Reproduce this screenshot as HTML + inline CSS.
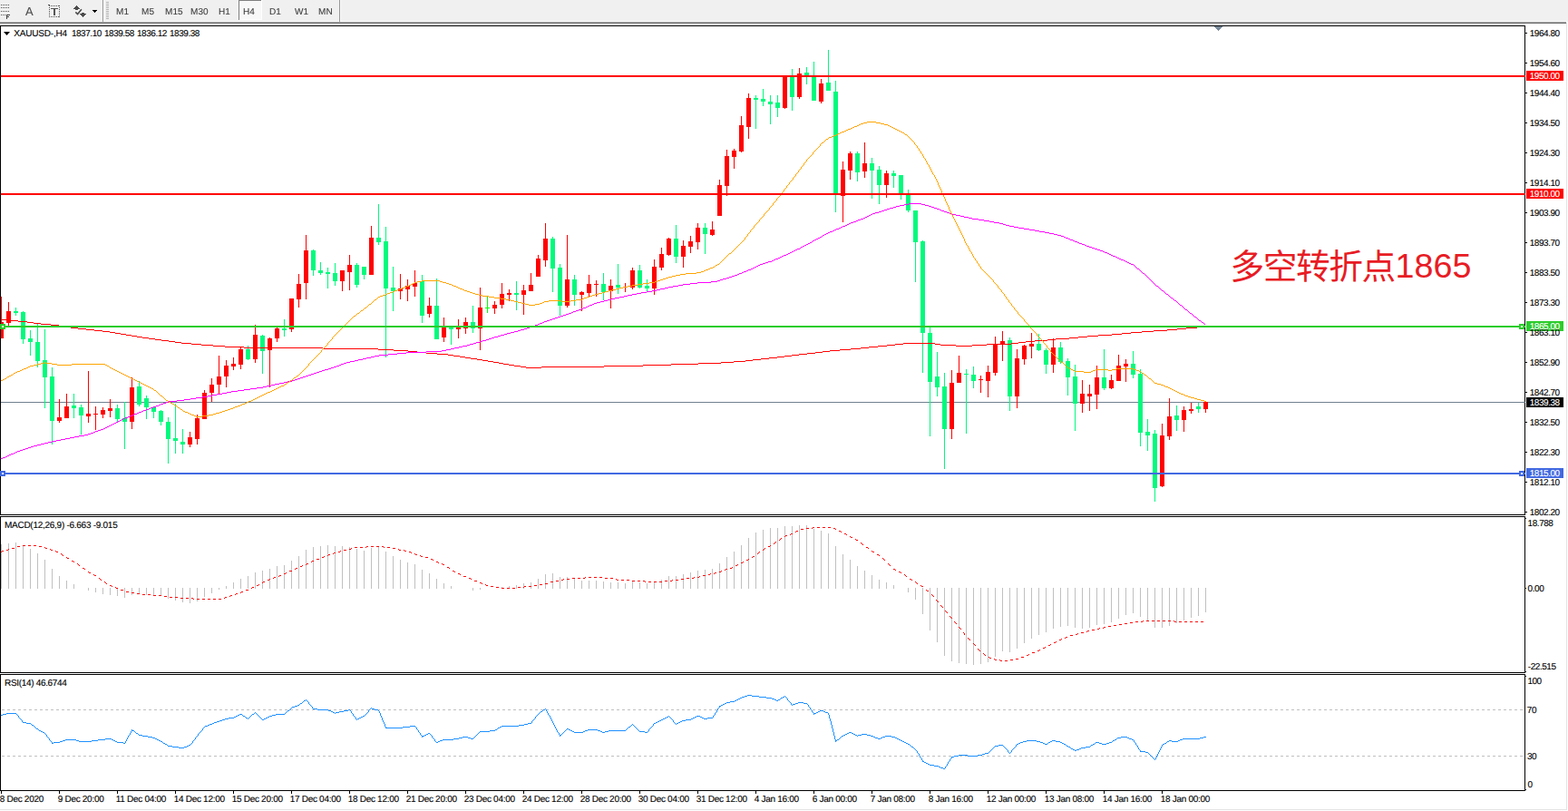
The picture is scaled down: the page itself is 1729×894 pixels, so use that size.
<!DOCTYPE html>
<html><head><meta charset="utf-8"><title>XAUUSD H4</title>
<style>
html,body{margin:0;padding:0;background:#fff}
body{width:1729px;height:894px;position:relative;overflow:hidden;font-family:"Liberation Sans",sans-serif}
#tb{position:absolute;left:0;top:0;width:1729px;height:24px;background:#f0f0f0}
#tbh{position:absolute;left:0;top:23px;width:1728px;height:1px;background:#f8f8f8}
#tbl1{position:absolute;left:0;top:24px;width:1727px;height:1px;background:#a8a8a8}
#tbl2{position:absolute;left:0;top:25px;width:1727px;height:1px;background:#696969}
#rs{position:absolute;left:1727px;top:25px;width:1px;height:868px;background:#e3e3e3}
#bs{position:absolute;left:0;top:892px;width:1728px;height:1px;background:#e3e3e3}
svg{position:absolute;left:0;top:0}
.t{position:absolute;white-space:nowrap;font-size:10px;line-height:12px;color:#000;letter-spacing:-0.45px;text-rendering:geometricPrecision;-webkit-text-stroke:0.12px}
.w{color:#fff}
.tf{position:absolute;white-space:nowrap;font-size:10px;line-height:12px;color:#3c3c3c;letter-spacing:0.1px;top:8px;text-rendering:geometricPrecision;will-change:transform;-webkit-text-stroke:0.1px #3c3c3c}
.tl{letter-spacing:-0.29px}
</style></head><body>
<div id="tb"></div><div id="tbh"></div><div id="tbl1"></div><div id="tbl2"></div><div id="rs"></div><div id="bs"></div>

<svg width="1729" height="894" viewBox="0 0 1729 894" shape-rendering="crispEdges">
<rect x="1" y="443" width="1680" height="1" fill="#708090"/>
<rect x="1" y="327" width="1" height="46" fill="#ff0000"/>
<rect x="1" y="355" width="3" height="18" fill="#ff0000"/>
<rect x="9" y="333" width="1" height="26" fill="#ff0000"/>
<rect x="7" y="343" width="5" height="13" fill="#ff0000"/>
<rect x="17" y="339" width="1" height="9" fill="#00fa7d"/>
<rect x="15" y="343" width="5" height="2" fill="#00fa7d"/>
<rect x="25" y="343" width="1" height="36" fill="#00fa7d"/>
<rect x="23" y="344" width="5" height="30" fill="#00fa7d"/>
<rect x="33" y="364" width="1" height="28" fill="#00fa7d"/>
<rect x="31" y="373" width="5" height="4" fill="#00fa7d"/>
<rect x="41" y="357" width="1" height="48" fill="#00fa7d"/>
<rect x="39" y="377" width="5" height="21" fill="#00fa7d"/>
<rect x="49" y="363" width="1" height="87" fill="#00fa7d"/>
<rect x="47" y="397" width="5" height="19" fill="#00fa7d"/>
<rect x="57" y="405" width="1" height="85" fill="#00fa7d"/>
<rect x="55" y="415" width="5" height="49" fill="#00fa7d"/>
<rect x="65" y="440" width="1" height="26" fill="#ff0000"/>
<rect x="63" y="460" width="5" height="4" fill="#ff0000"/>
<rect x="73" y="434" width="1" height="27" fill="#ff0000"/>
<rect x="71" y="448" width="5" height="13" fill="#ff0000"/>
<rect x="81" y="434" width="1" height="27" fill="#00fa7d"/>
<rect x="79" y="447" width="5" height="3" fill="#00fa7d"/>
<rect x="89" y="446" width="1" height="33" fill="#00fa7d"/>
<rect x="87" y="449" width="5" height="9" fill="#00fa7d"/>
<rect x="97" y="409" width="1" height="57" fill="#ff0000"/>
<rect x="95" y="456" width="5" height="3" fill="#ff0000"/>
<rect x="105" y="448" width="1" height="26" fill="#ff0000"/>
<rect x="103" y="456" width="5" height="1" fill="#ff0000"/>
<rect x="113" y="449" width="1" height="12" fill="#ff0000"/>
<rect x="111" y="452" width="5" height="5" fill="#ff0000"/>
<rect x="121" y="440" width="1" height="20" fill="#ff0000"/>
<rect x="119" y="450" width="5" height="3" fill="#ff0000"/>
<rect x="129" y="446" width="1" height="20" fill="#00fa7d"/>
<rect x="127" y="450" width="5" height="12" fill="#00fa7d"/>
<rect x="137" y="443" width="1" height="52" fill="#00fa7d"/>
<rect x="135" y="461" width="5" height="4" fill="#00fa7d"/>
<rect x="145" y="416" width="1" height="57" fill="#ff0000"/>
<rect x="143" y="427" width="5" height="38" fill="#ff0000"/>
<rect x="153" y="420" width="1" height="28" fill="#00fa7d"/>
<rect x="151" y="426" width="5" height="20" fill="#00fa7d"/>
<rect x="161" y="436" width="1" height="26" fill="#00fa7d"/>
<rect x="159" y="439" width="5" height="10" fill="#00fa7d"/>
<rect x="169" y="449" width="1" height="12" fill="#00fa7d"/>
<rect x="167" y="449" width="5" height="5" fill="#00fa7d"/>
<rect x="177" y="452" width="1" height="17" fill="#00fa7d"/>
<rect x="175" y="453" width="5" height="12" fill="#00fa7d"/>
<rect x="185" y="460" width="1" height="51" fill="#00fa7d"/>
<rect x="183" y="465" width="5" height="19" fill="#00fa7d"/>
<rect x="193" y="445" width="1" height="55" fill="#00fa7d"/>
<rect x="191" y="483" width="5" height="3" fill="#00fa7d"/>
<rect x="201" y="473" width="1" height="27" fill="#00fa7d"/>
<rect x="199" y="487" width="5" height="3" fill="#00fa7d"/>
<rect x="209" y="476" width="1" height="17" fill="#ff0000"/>
<rect x="207" y="482" width="5" height="8" fill="#ff0000"/>
<rect x="217" y="457" width="1" height="33" fill="#ff0000"/>
<rect x="215" y="461" width="5" height="23" fill="#ff0000"/>
<rect x="225" y="430" width="1" height="32" fill="#ff0000"/>
<rect x="223" y="433" width="5" height="29" fill="#ff0000"/>
<rect x="233" y="417" width="1" height="26" fill="#ff0000"/>
<rect x="231" y="424" width="5" height="9" fill="#ff0000"/>
<rect x="241" y="392" width="1" height="42" fill="#ff0000"/>
<rect x="239" y="415" width="5" height="9" fill="#ff0000"/>
<rect x="249" y="397" width="1" height="30" fill="#ff0000"/>
<rect x="247" y="403" width="5" height="12" fill="#ff0000"/>
<rect x="257" y="394" width="1" height="14" fill="#ff0000"/>
<rect x="255" y="401" width="5" height="3" fill="#ff0000"/>
<rect x="265" y="382" width="1" height="25" fill="#ff0000"/>
<rect x="263" y="385" width="5" height="17" fill="#ff0000"/>
<rect x="273" y="381" width="1" height="16" fill="#00fa7d"/>
<rect x="271" y="385" width="5" height="11" fill="#00fa7d"/>
<rect x="281" y="358" width="1" height="42" fill="#ff0000"/>
<rect x="279" y="369" width="5" height="27" fill="#ff0000"/>
<rect x="289" y="369" width="1" height="43" fill="#00fa7d"/>
<rect x="287" y="370" width="5" height="17" fill="#00fa7d"/>
<rect x="297" y="372" width="1" height="55" fill="#ff0000"/>
<rect x="295" y="373" width="5" height="13" fill="#ff0000"/>
<rect x="305" y="361" width="1" height="16" fill="#ff0000"/>
<rect x="303" y="362" width="5" height="11" fill="#ff0000"/>
<rect x="313" y="352" width="1" height="19" fill="#00fa7d"/>
<rect x="311" y="362" width="5" height="2" fill="#00fa7d"/>
<rect x="321" y="329" width="1" height="37" fill="#ff0000"/>
<rect x="319" y="329" width="5" height="34" fill="#ff0000"/>
<rect x="329" y="302" width="1" height="37" fill="#ff0000"/>
<rect x="327" y="313" width="5" height="17" fill="#ff0000"/>
<rect x="337" y="259" width="1" height="71" fill="#ff0000"/>
<rect x="335" y="276" width="5" height="36" fill="#ff0000"/>
<rect x="345" y="275" width="1" height="29" fill="#00fa7d"/>
<rect x="343" y="276" width="5" height="22" fill="#00fa7d"/>
<rect x="353" y="289" width="1" height="14" fill="#00fa7d"/>
<rect x="351" y="298" width="5" height="3" fill="#00fa7d"/>
<rect x="361" y="295" width="1" height="23" fill="#00fa7d"/>
<rect x="359" y="300" width="5" height="2" fill="#00fa7d"/>
<rect x="369" y="290" width="1" height="25" fill="#00fa7d"/>
<rect x="367" y="301" width="5" height="9" fill="#00fa7d"/>
<rect x="377" y="298" width="1" height="23" fill="#ff0000"/>
<rect x="375" y="298" width="5" height="12" fill="#ff0000"/>
<rect x="385" y="281" width="1" height="39" fill="#ff0000"/>
<rect x="383" y="292" width="5" height="8" fill="#ff0000"/>
<rect x="393" y="290" width="1" height="27" fill="#00fa7d"/>
<rect x="391" y="292" width="5" height="22" fill="#00fa7d"/>
<rect x="401" y="294" width="1" height="14" fill="#00fa7d"/>
<rect x="399" y="294" width="5" height="9" fill="#00fa7d"/>
<rect x="409" y="249" width="1" height="54" fill="#ff0000"/>
<rect x="407" y="262" width="5" height="41" fill="#ff0000"/>
<rect x="417" y="225" width="1" height="45" fill="#00fa7d"/>
<rect x="415" y="262" width="5" height="5" fill="#00fa7d"/>
<rect x="425" y="250" width="1" height="144" fill="#00fa7d"/>
<rect x="423" y="266" width="5" height="52" fill="#00fa7d"/>
<rect x="433" y="294" width="1" height="49" fill="#00fa7d"/>
<rect x="431" y="317" width="5" height="4" fill="#00fa7d"/>
<rect x="441" y="302" width="1" height="28" fill="#ff0000"/>
<rect x="439" y="318" width="5" height="3" fill="#ff0000"/>
<rect x="449" y="308" width="1" height="24" fill="#ff0000"/>
<rect x="447" y="315" width="5" height="4" fill="#ff0000"/>
<rect x="457" y="298" width="1" height="29" fill="#ff0000"/>
<rect x="455" y="312" width="5" height="4" fill="#ff0000"/>
<rect x="465" y="303" width="1" height="53" fill="#00fa7d"/>
<rect x="463" y="310" width="5" height="38" fill="#00fa7d"/>
<rect x="473" y="328" width="1" height="22" fill="#ff0000"/>
<rect x="471" y="337" width="5" height="9" fill="#ff0000"/>
<rect x="481" y="307" width="1" height="67" fill="#00fa7d"/>
<rect x="479" y="337" width="5" height="37" fill="#00fa7d"/>
<rect x="489" y="350" width="1" height="27" fill="#ff0000"/>
<rect x="487" y="360" width="5" height="12" fill="#ff0000"/>
<rect x="497" y="360" width="1" height="20" fill="#00fa7d"/>
<rect x="495" y="360" width="5" height="3" fill="#00fa7d"/>
<rect x="505" y="352" width="1" height="21" fill="#ff0000"/>
<rect x="503" y="361" width="5" height="2" fill="#ff0000"/>
<rect x="513" y="350" width="1" height="18" fill="#ff0000"/>
<rect x="511" y="355" width="5" height="7" fill="#ff0000"/>
<rect x="521" y="337" width="1" height="30" fill="#00fa7d"/>
<rect x="519" y="355" width="5" height="7" fill="#00fa7d"/>
<rect x="529" y="317" width="1" height="69" fill="#ff0000"/>
<rect x="527" y="339" width="5" height="23" fill="#ff0000"/>
<rect x="537" y="327" width="1" height="18" fill="#00ff00"/>
<rect x="535" y="339" width="5" height="1" fill="#00ff00"/>
<rect x="545" y="332" width="1" height="14" fill="#ff0000"/>
<rect x="543" y="336" width="5" height="4" fill="#ff0000"/>
<rect x="553" y="312" width="1" height="28" fill="#ff0000"/>
<rect x="551" y="324" width="5" height="12" fill="#ff0000"/>
<rect x="561" y="319" width="1" height="13" fill="#ff0000"/>
<rect x="559" y="323" width="5" height="2" fill="#ff0000"/>
<rect x="569" y="310" width="1" height="32" fill="#00fa7d"/>
<rect x="567" y="323" width="5" height="2" fill="#00fa7d"/>
<rect x="577" y="314" width="1" height="33" fill="#ff0000"/>
<rect x="575" y="320" width="5" height="5" fill="#ff0000"/>
<rect x="585" y="301" width="1" height="20" fill="#ff0000"/>
<rect x="583" y="314" width="5" height="7" fill="#ff0000"/>
<rect x="593" y="281" width="1" height="24" fill="#ff0000"/>
<rect x="591" y="285" width="5" height="20" fill="#ff0000"/>
<rect x="601" y="246" width="1" height="48" fill="#ff0000"/>
<rect x="599" y="263" width="5" height="24" fill="#ff0000"/>
<rect x="609" y="261" width="1" height="61" fill="#00fa7d"/>
<rect x="607" y="263" width="5" height="33" fill="#00fa7d"/>
<rect x="617" y="291" width="1" height="57" fill="#00fa7d"/>
<rect x="615" y="295" width="5" height="42" fill="#00fa7d"/>
<rect x="625" y="259" width="1" height="80" fill="#ff0000"/>
<rect x="623" y="308" width="5" height="29" fill="#ff0000"/>
<rect x="633" y="303" width="1" height="34" fill="#00fa7d"/>
<rect x="631" y="308" width="5" height="17" fill="#00fa7d"/>
<rect x="641" y="321" width="1" height="22" fill="#ff0000"/>
<rect x="639" y="322" width="5" height="3" fill="#ff0000"/>
<rect x="649" y="303" width="1" height="24" fill="#ff0000"/>
<rect x="647" y="313" width="5" height="10" fill="#ff0000"/>
<rect x="657" y="309" width="1" height="18" fill="#ff0000"/>
<rect x="655" y="313" width="5" height="1" fill="#ff0000"/>
<rect x="665" y="301" width="1" height="30" fill="#00fa7d"/>
<rect x="663" y="313" width="5" height="9" fill="#00fa7d"/>
<rect x="673" y="308" width="1" height="32" fill="#ff0000"/>
<rect x="671" y="315" width="5" height="6" fill="#ff0000"/>
<rect x="681" y="291" width="1" height="33" fill="#00fa7d"/>
<rect x="679" y="314" width="5" height="3" fill="#00fa7d"/>
<rect x="689" y="312" width="1" height="10" fill="#ff0000"/>
<rect x="687" y="316" width="5" height="1" fill="#ff0000"/>
<rect x="697" y="295" width="1" height="24" fill="#ff0000"/>
<rect x="695" y="298" width="5" height="19" fill="#ff0000"/>
<rect x="705" y="292" width="1" height="26" fill="#00fa7d"/>
<rect x="703" y="298" width="5" height="19" fill="#00fa7d"/>
<rect x="713" y="308" width="1" height="13" fill="#00fa7d"/>
<rect x="711" y="315" width="5" height="3" fill="#00fa7d"/>
<rect x="721" y="286" width="1" height="39" fill="#ff0000"/>
<rect x="719" y="294" width="5" height="24" fill="#ff0000"/>
<rect x="729" y="273" width="1" height="25" fill="#ff0000"/>
<rect x="727" y="280" width="5" height="15" fill="#ff0000"/>
<rect x="737" y="262" width="1" height="20" fill="#ff0000"/>
<rect x="735" y="263" width="5" height="18" fill="#ff0000"/>
<rect x="745" y="248" width="1" height="42" fill="#00fa7d"/>
<rect x="743" y="263" width="5" height="20" fill="#00fa7d"/>
<rect x="753" y="265" width="1" height="30" fill="#ff0000"/>
<rect x="751" y="271" width="5" height="12" fill="#ff0000"/>
<rect x="761" y="260" width="1" height="19" fill="#ff0000"/>
<rect x="759" y="266" width="5" height="6" fill="#ff0000"/>
<rect x="769" y="246" width="1" height="29" fill="#ff0000"/>
<rect x="767" y="251" width="5" height="16" fill="#ff0000"/>
<rect x="777" y="246" width="1" height="34" fill="#00fa7d"/>
<rect x="775" y="251" width="5" height="7" fill="#00fa7d"/>
<rect x="785" y="244" width="1" height="16" fill="#ff0000"/>
<rect x="783" y="253" width="5" height="6" fill="#ff0000"/>
<rect x="793" y="198" width="1" height="40" fill="#ff0000"/>
<rect x="791" y="204" width="5" height="34" fill="#ff0000"/>
<rect x="801" y="165" width="1" height="51" fill="#ff0000"/>
<rect x="799" y="172" width="5" height="33" fill="#ff0000"/>
<rect x="809" y="164" width="1" height="22" fill="#ff0000"/>
<rect x="807" y="166" width="5" height="7" fill="#ff0000"/>
<rect x="817" y="128" width="1" height="40" fill="#ff0000"/>
<rect x="815" y="138" width="5" height="29" fill="#ff0000"/>
<rect x="825" y="103" width="1" height="50" fill="#ff0000"/>
<rect x="823" y="108" width="5" height="32" fill="#ff0000"/>
<rect x="833" y="105" width="1" height="37" fill="#00fa7d"/>
<rect x="831" y="108" width="5" height="2" fill="#00fa7d"/>
<rect x="841" y="98" width="1" height="19" fill="#00fa7d"/>
<rect x="839" y="109" width="5" height="3" fill="#00fa7d"/>
<rect x="849" y="105" width="1" height="32" fill="#00fa7d"/>
<rect x="847" y="112" width="5" height="3" fill="#00fa7d"/>
<rect x="857" y="105" width="1" height="24" fill="#00fa7d"/>
<rect x="855" y="113" width="5" height="6" fill="#00fa7d"/>
<rect x="865" y="84" width="1" height="36" fill="#ff0000"/>
<rect x="863" y="84" width="5" height="35" fill="#ff0000"/>
<rect x="873" y="76" width="1" height="46" fill="#00fa7d"/>
<rect x="871" y="84" width="5" height="23" fill="#00fa7d"/>
<rect x="881" y="75" width="1" height="34" fill="#ff0000"/>
<rect x="879" y="81" width="5" height="26" fill="#ff0000"/>
<rect x="889" y="74" width="1" height="19" fill="#00fa7d"/>
<rect x="887" y="80" width="5" height="3" fill="#00fa7d"/>
<rect x="897" y="68" width="1" height="43" fill="#00fa7d"/>
<rect x="895" y="83" width="5" height="28" fill="#00fa7d"/>
<rect x="905" y="87" width="1" height="27" fill="#ff0000"/>
<rect x="903" y="92" width="5" height="20" fill="#ff0000"/>
<rect x="913" y="55" width="1" height="45" fill="#00fa7d"/>
<rect x="911" y="91" width="5" height="9" fill="#00fa7d"/>
<rect x="921" y="89" width="1" height="145" fill="#00fa7d"/>
<rect x="919" y="101" width="5" height="114" fill="#00fa7d"/>
<rect x="929" y="178" width="1" height="67" fill="#ff0000"/>
<rect x="927" y="187" width="5" height="29" fill="#ff0000"/>
<rect x="937" y="167" width="1" height="31" fill="#ff0000"/>
<rect x="935" y="169" width="5" height="19" fill="#ff0000"/>
<rect x="945" y="167" width="1" height="33" fill="#00fa7d"/>
<rect x="943" y="169" width="5" height="21" fill="#00fa7d"/>
<rect x="953" y="157" width="1" height="39" fill="#ff0000"/>
<rect x="951" y="180" width="5" height="9" fill="#ff0000"/>
<rect x="961" y="174" width="1" height="45" fill="#00fa7d"/>
<rect x="959" y="180" width="5" height="8" fill="#00fa7d"/>
<rect x="969" y="183" width="1" height="42" fill="#00fa7d"/>
<rect x="967" y="187" width="5" height="17" fill="#00fa7d"/>
<rect x="977" y="188" width="1" height="30" fill="#ff0000"/>
<rect x="975" y="191" width="5" height="13" fill="#ff0000"/>
<rect x="985" y="188" width="1" height="19" fill="#00fa7d"/>
<rect x="983" y="191" width="5" height="3" fill="#00fa7d"/>
<rect x="993" y="193" width="1" height="27" fill="#00fa7d"/>
<rect x="991" y="193" width="5" height="21" fill="#00fa7d"/>
<rect x="1001" y="209" width="1" height="25" fill="#00fa7d"/>
<rect x="999" y="214" width="5" height="18" fill="#00fa7d"/>
<rect x="1009" y="232" width="1" height="79" fill="#00fa7d"/>
<rect x="1007" y="232" width="5" height="35" fill="#00fa7d"/>
<rect x="1017" y="265" width="1" height="146" fill="#00fa7d"/>
<rect x="1015" y="266" width="5" height="101" fill="#00fa7d"/>
<rect x="1025" y="361" width="1" height="120" fill="#00fa7d"/>
<rect x="1023" y="367" width="5" height="54" fill="#00fa7d"/>
<rect x="1033" y="388" width="1" height="49" fill="#00fa7d"/>
<rect x="1031" y="415" width="5" height="12" fill="#00fa7d"/>
<rect x="1041" y="411" width="1" height="106" fill="#00fa7d"/>
<rect x="1039" y="426" width="5" height="47" fill="#00fa7d"/>
<rect x="1049" y="408" width="1" height="76" fill="#ff0000"/>
<rect x="1047" y="422" width="5" height="51" fill="#ff0000"/>
<rect x="1057" y="392" width="1" height="30" fill="#ff0000"/>
<rect x="1055" y="411" width="5" height="11" fill="#ff0000"/>
<rect x="1065" y="407" width="1" height="71" fill="#00fa7d"/>
<rect x="1063" y="412" width="5" height="1" fill="#00fa7d"/>
<rect x="1073" y="404" width="1" height="24" fill="#00fa7d"/>
<rect x="1071" y="413" width="5" height="7" fill="#00fa7d"/>
<rect x="1081" y="414" width="1" height="19" fill="#ff0000"/>
<rect x="1079" y="418" width="5" height="1" fill="#ff0000"/>
<rect x="1089" y="403" width="1" height="35" fill="#ff0000"/>
<rect x="1087" y="410" width="5" height="10" fill="#ff0000"/>
<rect x="1097" y="371" width="1" height="43" fill="#ff0000"/>
<rect x="1095" y="379" width="5" height="32" fill="#ff0000"/>
<rect x="1105" y="365" width="1" height="33" fill="#ff0000"/>
<rect x="1103" y="376" width="5" height="4" fill="#ff0000"/>
<rect x="1113" y="372" width="1" height="81" fill="#00fa7d"/>
<rect x="1111" y="375" width="5" height="62" fill="#00fa7d"/>
<rect x="1121" y="385" width="1" height="65" fill="#ff0000"/>
<rect x="1119" y="395" width="5" height="42" fill="#ff0000"/>
<rect x="1129" y="380" width="1" height="22" fill="#ff0000"/>
<rect x="1127" y="381" width="5" height="15" fill="#ff0000"/>
<rect x="1137" y="367" width="1" height="28" fill="#ff0000"/>
<rect x="1135" y="379" width="5" height="3" fill="#ff0000"/>
<rect x="1145" y="368" width="1" height="19" fill="#00fa7d"/>
<rect x="1143" y="379" width="5" height="7" fill="#00fa7d"/>
<rect x="1153" y="384" width="1" height="28" fill="#00fa7d"/>
<rect x="1151" y="386" width="5" height="16" fill="#00fa7d"/>
<rect x="1161" y="373" width="1" height="38" fill="#ff0000"/>
<rect x="1159" y="383" width="5" height="19" fill="#ff0000"/>
<rect x="1169" y="377" width="1" height="24" fill="#00fa7d"/>
<rect x="1167" y="383" width="5" height="16" fill="#00fa7d"/>
<rect x="1177" y="395" width="1" height="41" fill="#00fa7d"/>
<rect x="1175" y="398" width="5" height="18" fill="#00fa7d"/>
<rect x="1185" y="402" width="1" height="73" fill="#00fa7d"/>
<rect x="1183" y="415" width="5" height="30" fill="#00fa7d"/>
<rect x="1193" y="419" width="1" height="36" fill="#ff0000"/>
<rect x="1191" y="434" width="5" height="11" fill="#ff0000"/>
<rect x="1201" y="424" width="1" height="29" fill="#ff0000"/>
<rect x="1199" y="434" width="5" height="3" fill="#ff0000"/>
<rect x="1209" y="403" width="1" height="48" fill="#ff0000"/>
<rect x="1207" y="416" width="5" height="19" fill="#ff0000"/>
<rect x="1217" y="385" width="1" height="45" fill="#00fa7d"/>
<rect x="1215" y="416" width="5" height="12" fill="#00fa7d"/>
<rect x="1225" y="413" width="1" height="16" fill="#ff0000"/>
<rect x="1223" y="419" width="5" height="9" fill="#ff0000"/>
<rect x="1233" y="391" width="1" height="29" fill="#ff0000"/>
<rect x="1231" y="403" width="5" height="17" fill="#ff0000"/>
<rect x="1241" y="396" width="1" height="25" fill="#ff0000"/>
<rect x="1239" y="401" width="5" height="3" fill="#ff0000"/>
<rect x="1249" y="387" width="1" height="30" fill="#00fa7d"/>
<rect x="1247" y="401" width="5" height="12" fill="#00fa7d"/>
<rect x="1257" y="407" width="1" height="85" fill="#00fa7d"/>
<rect x="1255" y="412" width="5" height="65" fill="#00fa7d"/>
<rect x="1265" y="462" width="1" height="35" fill="#00fa7d"/>
<rect x="1263" y="476" width="5" height="4" fill="#00fa7d"/>
<rect x="1273" y="474" width="1" height="79" fill="#00fa7d"/>
<rect x="1271" y="478" width="5" height="60" fill="#00fa7d"/>
<rect x="1281" y="467" width="1" height="70" fill="#ff0000"/>
<rect x="1279" y="480" width="5" height="56" fill="#ff0000"/>
<rect x="1289" y="439" width="1" height="46" fill="#ff0000"/>
<rect x="1287" y="459" width="5" height="22" fill="#ff0000"/>
<rect x="1297" y="447" width="1" height="28" fill="#00fa7d"/>
<rect x="1295" y="458" width="5" height="5" fill="#00fa7d"/>
<rect x="1305" y="448" width="1" height="28" fill="#ff0000"/>
<rect x="1303" y="452" width="5" height="11" fill="#ff0000"/>
<rect x="1313" y="444" width="1" height="12" fill="#ff0000"/>
<rect x="1311" y="451" width="5" height="2" fill="#ff0000"/>
<rect x="1321" y="444" width="1" height="11" fill="#00fa7d"/>
<rect x="1319" y="448" width="5" height="3" fill="#00fa7d"/>
<rect x="1329" y="442" width="1" height="13" fill="#ff0000"/>
<rect x="1327" y="443" width="5" height="8" fill="#ff0000"/>
<path d="M1 352.5h6M7 353.5h13M20 354.5h10M30 355.5h7M37 356.5h8M45 357.5h11M56 358.5h9M65 359.5h6M71 360.5h7M1320 360.5h10M78 361.5h8M1308 361.5h12M86 362.5h9M1298 362.5h10M95 363.5h9M1287 363.5h11M104 364.5h9M1272 364.5h15M113 365.5h8M1259 365.5h13M121 366.5h6M1247 366.5h12M127 367.5h6M1237 367.5h10M133 368.5h6M1226 368.5h11M139 369.5h6M1211 369.5h15M145 370.5h6M1199 370.5h12M151 371.5h6M1189 371.5h10M157 372.5h7M1179 372.5h10M164 373.5h7M1164 373.5h15M171 374.5h7M1155 374.5h9M178 375.5h8M1141 375.5h14M186 376.5h7M1131 376.5h10M193 377.5h7M1123 377.5h8M200 378.5h11M996 378.5h35M1115 378.5h8M211 379.5h11M987 379.5h9M1031 379.5h6M1088 379.5h27M222 380.5h13M978 380.5h9M1037 380.5h17M1072 380.5h16M235 381.5h13M968 381.5h10M1054 381.5h18M248 382.5h21M958 382.5h10M269 383.5h87M949 383.5h9M356 384.5h61M938 384.5h11M417 385.5h17M926 385.5h12M434 386.5h16M915 386.5h11M450 387.5h10M907 387.5h8M460 388.5h10M899 388.5h8M470 389.5h12M890 389.5h9M482 390.5h12M881 390.5h9M494 391.5h6M873 391.5h8M500 392.5h7M865 392.5h8M507 393.5h6M857 393.5h8M513 394.5h6M848 394.5h9M519 395.5h7M839 395.5h9M526 396.5h6M830 396.5h9M532 397.5h6M822 397.5h8M538 398.5h6M809 398.5h13M544 399.5h6M795 399.5h14M550 400.5h5M770 400.5h25M555 401.5h6M740 401.5h30M561 402.5h6M709 402.5h31M567 403.5h7M666 403.5h43M574 404.5h6M597 404.5h69M580 405.5h17" fill="none" stroke="#ff0000" stroke-width="1"/>
<path d="M1002 224.5h14M997 225.5h5M1016 225.5h4M992 226.5h5M1020 226.5h4M988 227.5h4M1024 227.5h3M985 228.5h3M1027 228.5h3M981 229.5h4M1030 229.5h3M978 230.5h3M1033 230.5h3M975 231.5h3M1036 231.5h2M972 232.5h3M1038 232.5h3M969 233.5h3M1041 233.5h3M965 234.5h4M1044 234.5h3M962 235.5h3M1047 235.5h3M960 236.5h2M1050 236.5h4M958 237.5h2M1054 237.5h5M956 238.5h2M1059 238.5h4M954 239.5h2M1063 239.5h5M952 240.5h2M1068 240.5h4M949 241.5h3M1072 241.5h7M946 242.5h3M1079 242.5h6M944 243.5h2M1085 243.5h6M941 244.5h3M1091 244.5h5M938 245.5h3M1096 245.5h6M936 246.5h2M1102 246.5h4M934 247.5h2M1106 247.5h3M932 248.5h2M1109 248.5h4M929 249.5h3M1113 249.5h5M927 250.5h2M1118 250.5h5M925 251.5h2M1123 251.5h6M922 252.5h3M1129 252.5h6M920 253.5h2M1135 253.5h6M918 254.5h2M1141 254.5h5M915 255.5h3M1146 255.5h6M913 256.5h2M1152 256.5h5M911 257.5h2M1157 257.5h5M909 258.5h2M1162 258.5h4M907 259.5h2M1166 259.5h4M906 260.5h1M1170 260.5h3M904 261.5h2M1173 261.5h2M902 262.5h2M1175 262.5h3M900 263.5h2M1178 263.5h2M898 264.5h2M1180 264.5h3M896 265.5h2M1183 265.5h2M895 266.5h1M1185 266.5h3M893 267.5h2M1188 267.5h2M891 268.5h2M1190 268.5h3M889 269.5h2M1193 269.5h3M887 270.5h2M1196 270.5h2M885 271.5h2M1198 271.5h3M883 272.5h2M1201 272.5h3M882 273.5h1M1204 273.5h3M879 274.5h3M1207 274.5h3M877 275.5h2M1210 275.5h3M875 276.5h2M1213 276.5h3M873 277.5h2M1216 277.5h2M871 278.5h2M1218 278.5h3M869 279.5h2M1221 279.5h2M867 280.5h2M1223 280.5h2M864 281.5h3M1225 281.5h2M862 282.5h2M1227 282.5h3M860 283.5h2M1230 283.5h2M858 284.5h2M1232 284.5h2M855 285.5h3M1234 285.5h2M853 286.5h2M1236 286.5h3M851 287.5h2M1239 287.5h2M847 288.5h4M1241 288.5h2M844 289.5h3M1243 289.5h2M841 290.5h3M1245 290.5h2M838 291.5h3M1247 291.5h3M836 292.5h2M1250 292.5h1M834 293.5h2M1251 293.5h1M832 294.5h2M1252 294.5h1M830 295.5h2M1253 295.5h1M828 296.5h2M1254 296.5h2M825 297.5h3M1256 297.5h1M823 298.5h2M1257 298.5h1M820 299.5h3M1258 299.5h1M818 300.5h2M1259 300.5h1M815 301.5h3M1260 301.5h2M813 302.5h2M1262 302.5h1M810 303.5h3M1263 303.5h1M807 304.5h3M1264 304.5h1M804 305.5h3M1265 305.5h1M801 306.5h3M1266 306.5h1M797 307.5h4M1267 307.5h1M794 308.5h3M1268 308.5h1M791 309.5h3M1269 309.5h1M784 310.5h7M1270 310.5h1M769 311.5h15M1271 311.5h1M761 312.5h8M1272 312.5h1M753 313.5h8M1273 313.5h1M748 314.5h5M1274 314.5h1M742 315.5h6M1275 315.5h2M737 316.5h5M1277 316.5h1M733 317.5h4M1278 317.5h1M728 318.5h5M1279 318.5h1M724 319.5h4M1280 319.5h1M719 320.5h5M1281 320.5h2M713 321.5h6M1283 321.5h1M707 322.5h6M1284 322.5h1M702 323.5h5M1285 323.5h1M697 324.5h5M1286 324.5h2M692 325.5h5M1288 325.5h1M688 326.5h4M1289 326.5h1M683 327.5h5M1290 327.5h1M678 328.5h5M1291 328.5h2M674 329.5h4M1293 329.5h1M670 330.5h4M1294 330.5h1M666 331.5h4M1295 331.5h2M662 332.5h4M1297 332.5h1M658 333.5h4M1298 333.5h1M655 334.5h3M1299 334.5h1M653 335.5h2M1300 335.5h1M650 336.5h3M1301 336.5h2M648 337.5h2M1303 337.5h1M646 338.5h2M1304 338.5h1M643 339.5h3M1305 339.5h1M641 340.5h2M1306 340.5h1M638 341.5h3M1307 341.5h2M635 342.5h3M1309 342.5h1M632 343.5h3M1310 343.5h1M630 344.5h2M1311 344.5h1M627 345.5h3M1312 345.5h2M624 346.5h3M1314 346.5h1M621 347.5h3M1315 347.5h1M618 348.5h3M1316 348.5h1M615 349.5h3M1317 349.5h2M612 350.5h3M1319 350.5h1M609 351.5h3M1320 351.5h1M606 352.5h3M1321 352.5h1M603 353.5h3M1322 353.5h2M600 354.5h3M1324 354.5h1M598 355.5h2M1325 355.5h2M595 356.5h3M1327 356.5h1M593 357.5h2M1328 357.5h1M590 358.5h3M587 359.5h3M584 360.5h3M581 361.5h3M578 362.5h3M574 363.5h4M571 364.5h3M567 365.5h4M563 366.5h4M559 367.5h4M556 368.5h3M552 369.5h4M549 370.5h3M545 371.5h4M542 372.5h3M539 373.5h3M536 374.5h3M532 375.5h4M529 376.5h3M525 377.5h4M522 378.5h3M518 379.5h4M515 380.5h3M510 381.5h5M506 382.5h4M501 383.5h5M497 384.5h4M492 385.5h5M487 386.5h5M470 387.5h17M448 388.5h22M438 389.5h10M428 390.5h10M418 391.5h10M413 392.5h5M409 393.5h4M404 394.5h5M400 395.5h4M395 396.5h5M391 397.5h4M386 398.5h5M382 399.5h4M379 400.5h3M376 401.5h3M374 402.5h2M371 403.5h3M368 404.5h3M365 405.5h3M362 406.5h3M358 407.5h4M355 408.5h3M352 409.5h3M349 410.5h3M346 411.5h3M343 412.5h3M340 413.5h3M337 414.5h3M334 415.5h3M331 416.5h3M328 417.5h3M325 418.5h3M322 419.5h3M317 420.5h5M313 421.5h4M308 422.5h5M303 423.5h5M299 424.5h4M294 425.5h5M290 426.5h4M283 427.5h7M276 428.5h7M269 429.5h7M262 430.5h7M255 431.5h7M250 432.5h5M245 433.5h5M239 434.5h6M234 435.5h5M229 436.5h5M223 437.5h6M216 438.5h7M210 439.5h6M203 440.5h7M195 441.5h8M186 442.5h9M183 443.5h3M180 444.5h3M177 445.5h3M175 446.5h2M172 447.5h3M169 448.5h3M166 449.5h3M164 450.5h2M161 451.5h3M158 452.5h3M156 453.5h2M153 454.5h3M151 455.5h2M148 456.5h3M146 457.5h2M143 458.5h3M141 459.5h2M138 460.5h3M136 461.5h2M134 462.5h2M132 463.5h2M130 464.5h2M128 465.5h2M126 466.5h2M124 467.5h2M122 468.5h2M120 469.5h2M118 470.5h2M116 471.5h2M114 472.5h2M111 473.5h3M108 474.5h3M105 475.5h3M103 476.5h2M100 477.5h3M97 478.5h3M93 479.5h4M87 480.5h6M82 481.5h5M77 482.5h5M72 483.5h5M67 484.5h5M62 485.5h5M57 486.5h5M53 487.5h4M49 488.5h4M45 489.5h4M41 490.5h4M37 491.5h4M34 492.5h3M31 493.5h3M28 494.5h3M25 495.5h3M22 496.5h3M19 497.5h3M17 498.5h2M15 499.5h2M12 500.5h3M10 501.5h2M8 502.5h2M6 503.5h2M3 504.5h3M1 505.5h2" fill="none" stroke="#ff00ff" stroke-width="1"/>
<path d="M956 134.5h10M952 135.5h4M966 135.5h5M949 136.5h3M971 136.5h4M947 137.5h2M975 137.5h4M945 138.5h2M979 138.5h2M942 139.5h3M981 139.5h2M940 140.5h2M983 140.5h2M938 141.5h2M985 141.5h2M935 142.5h3M987 142.5h2M933 143.5h2M989 143.5h2M931 144.5h2M991 144.5h2M928 145.5h3M993 145.5h2M926 146.5h2M995 146.5h2M924 147.5h2M997 147.5h1M922 148.5h2M998 148.5h2M919 149.5h3M1000 149.5h1M917 150.5h2M1001 150.5h1M914 151.5h3M1002 151.5h1M913 152.5h1M1003 152.5h1M911 153.5h2M1004 153.5h1M910 154.5h1M1005 154.5h1M909 155.5h1M1006 155.5h1M908 156.5h1M1007 156.5h1M906 157.5h2M1008.5 157v2M905 158.5h1M904.5 159v2M1009 159.5h1M1010 160.5h1M903 161.5h1M1011.5 161v2M902 162.5h1M901 163.5h1M1012 163.5h1M900 164.5h1M1013.5 164v2M899 165.5h1M898 166.5h1M1014 166.5h1M897 167.5h1M1015.5 167v2M896.5 168v2M1016 169.5h1M895 170.5h1M1017.5 170v2M894 171.5h1M893 172.5h1M1018.5 172v2M892 173.5h1M891 174.5h1M1019 174.5h1M890 175.5h1M1020.5 175v2M889.5 176v2M1021.5 177v2M888 178.5h1M887 179.5h1M1022.5 179v2M886.5 180v2M1023 181.5h1M885 182.5h1M1024.5 182v2M884 183.5h1M883.5 184v2M1025.5 184v2M882 186.5h1M1026.5 186v2M881 187.5h1M880.5 188v2M1027.5 188v2M879 190.5h1M1028.5 190v2M878 191.5h1M877.5 192v2M1029 192.5h1M1030.5 193v2M876 194.5h1M875 195.5h1M1031.5 195v2M874.5 196v2M1032.5 197v2M873 198.5h1M872 199.5h1M1033.5 199v2M871 200.5h1M870.5 201v2M1034.5 201v3M869 203.5h1M868 204.5h1M1035.5 204v2M867.5 205v2M1036.5 206v2M866 207.5h1M865 208.5h1M1037.5 208v2M864.5 209v2M1038.5 210v3M863 211.5h1M862 212.5h1M861.5 213v2M1039.5 213v2M860 215.5h1M1040.5 215v2M859 216.5h1M858 217.5h1M1041.5 217v2M857 218.5h1M856.5 219v2M1042.5 219v3M855 221.5h1M854 222.5h1M1043.5 222v2M853 223.5h1M852.5 224v2M1044.5 224v2M851 226.5h1M1045.5 226v2M850 227.5h1M849 228.5h1M1046.5 228v3M848.5 229v2M847 231.5h1M1047.5 231v2M846 232.5h1M845 233.5h1M1048.5 233v2M844 234.5h1M843 235.5h1M1049.5 235v2M842.5 236v2M1050.5 237v2M841 238.5h1M840 239.5h1M1051.5 239v2M839 240.5h1M838 241.5h1M1052.5 241v2M837.5 242v2M1053.5 243v2M836 244.5h1M835 245.5h1M1054.5 245v2M834 246.5h1M833 247.5h1M1055.5 247v2M832 248.5h1M831.5 249v2M1056.5 249v2M830 251.5h1M1057.5 251v2M829 252.5h1M828 253.5h1M1058.5 253v2M827.5 254v2M1059.5 255v2M826 256.5h1M825 257.5h1M1060.5 257v2M824.5 258v2M1061.5 259v2M823 260.5h1M822 261.5h1M1062.5 261v2M821.5 262v2M1063.5 263v3M820 264.5h1M819 265.5h1M818 266.5h1M1064.5 266v2M817 267.5h1M816 268.5h1M1065.5 268v2M815 269.5h1M814 270.5h1M1066 270.5h1M813 271.5h1M1067.5 271v2M812 272.5h1M811 273.5h1M1068.5 273v2M810 274.5h1M809 275.5h1M1069.5 275v2M808 276.5h1M807 277.5h1M1070 277.5h1M806 278.5h1M1071.5 278v2M804 279.5h2M803 280.5h1M1072.5 280v2M802 281.5h1M801 282.5h1M1073.5 282v2M800 283.5h1M799 284.5h1M1074 284.5h1M798 285.5h1M1075.5 285v2M797 286.5h1M796 287.5h1M1076 287.5h1M795 288.5h1M1077.5 288v2M794 289.5h1M793 290.5h1M1078 290.5h1M791 291.5h2M1079.5 291v2M789 292.5h2M788 293.5h1M1080 293.5h1M786 294.5h2M1081.5 294v2M783 295.5h3M781 296.5h2M1082 296.5h1M778 297.5h3M1083 297.5h1M776 298.5h2M1084 298.5h1M773 299.5h3M1085 299.5h1M768 300.5h5M1086 300.5h1M756 301.5h12M1087 301.5h1M750 302.5h6M1088 302.5h1M745 303.5h5M1089 303.5h1M741 304.5h4M1090 304.5h1M737 305.5h4M1091 305.5h1M734 306.5h3M1092 306.5h1M731 307.5h3M1093 307.5h1M728 308.5h3M1094 308.5h1M465 309.5h20M725 309.5h3M1095.5 309v2M460 310.5h5M485 310.5h3M722 310.5h3M457 311.5h3M488 311.5h4M716 311.5h6M1096 311.5h1M455 312.5h2M492 312.5h3M709 312.5h7M1097 312.5h1M453 313.5h2M495 313.5h3M703 313.5h6M1098 313.5h1M451 314.5h2M498 314.5h2M697 314.5h6M1099 314.5h1M448 315.5h3M500 315.5h3M692 315.5h5M1100.5 315v2M446 316.5h2M503 316.5h2M687 316.5h5M443 317.5h3M505 317.5h2M683 317.5h4M1101 317.5h1M441 318.5h2M507 318.5h3M679 318.5h4M1102 318.5h1M438 319.5h3M510 319.5h2M675 319.5h4M1103 319.5h1M435 320.5h3M512 320.5h3M671 320.5h4M1104.5 320v2M433 321.5h2M515 321.5h3M667 321.5h4M430 322.5h3M518 322.5h3M664 322.5h3M1105 322.5h1M427 323.5h3M521 323.5h3M660 323.5h4M1106 323.5h1M425 324.5h2M524 324.5h4M656 324.5h4M1107.5 324v2M422 325.5h3M528 325.5h4M653 325.5h3M419 326.5h3M532 326.5h7M650 326.5h3M1108 326.5h1M417 327.5h2M539 327.5h6M647 327.5h3M1109.5 327v2M416 328.5h1M545 328.5h7M644 328.5h3M415 329.5h1M552 329.5h6M642 329.5h2M1110 329.5h1M413 330.5h2M558 330.5h5M635 330.5h7M1111 330.5h1M412 331.5h1M563 331.5h4M605 331.5h14M629 331.5h6M1112.5 331v2M411 332.5h1M567 332.5h4M600 332.5h5M619 332.5h10M410 333.5h1M571 333.5h4M598 333.5h2M1113 333.5h1M409 334.5h1M575 334.5h4M595 334.5h3M1114 334.5h1M407 335.5h2M579 335.5h4M590 335.5h5M1115.5 335v2M406 336.5h1M583 336.5h7M405 337.5h1M1116 337.5h1M404 338.5h1M1117 338.5h1M402 339.5h2M1118.5 339v2M401 340.5h1M400 341.5h1M1119 341.5h1M398 342.5h2M1120 342.5h1M397 343.5h1M1121 343.5h1M396 344.5h1M1122.5 344v2M394 345.5h2M393 346.5h1M1123 346.5h1M392 347.5h1M1124 347.5h1M390 348.5h2M1125 348.5h1M389 349.5h1M1126 349.5h1M388 350.5h1M1127 350.5h1M387 351.5h1M1128 351.5h1M386 352.5h1M1129.5 352v2M385 353.5h1M384 354.5h1M1130 354.5h1M383 355.5h1M1131 355.5h1M382 356.5h1M1132 356.5h1M381 357.5h1M1133 357.5h1M380 358.5h1M1134 358.5h1M379 359.5h1M1135.5 359v2M378 360.5h1M377 361.5h1M1136 361.5h1M376 362.5h1M1137 362.5h1M375 363.5h1M1138 363.5h1M374 364.5h1M1139 364.5h1M373 365.5h1M1140 365.5h1M372 366.5h1M1141 366.5h1M371 367.5h1M1142 367.5h1M370 368.5h1M1143.5 368v2M369 369.5h1M368 370.5h1M1144 370.5h1M367 371.5h1M1145 371.5h1M366.5 372v2M1146 372.5h1M1147 373.5h1M365 374.5h1M1148 374.5h1M364 375.5h1M1149 375.5h1M363 376.5h1M1150.5 376v2M362 377.5h1M361.5 378v2M1151 378.5h1M1152 379.5h1M360 380.5h1M1153 380.5h1M359 381.5h1M1154.5 381v2M358 382.5h1M357 383.5h1M1155 383.5h1M356 384.5h1M1156 384.5h1M355 385.5h1M1157 385.5h1M354.5 386v2M1158.5 386v2M353 388.5h1M1159 388.5h1M352 389.5h1M1160 389.5h1M351 390.5h1M1161 390.5h1M350 391.5h1M1162 391.5h1M349 392.5h1M1163 392.5h1M348 393.5h1M1164 393.5h1M347 394.5h1M1165 394.5h1M346 395.5h1M1166 395.5h1M345 396.5h1M1167 396.5h1M344 397.5h1M1168 397.5h1M343 398.5h1M1169 398.5h1M49 399.5h1M342 399.5h1M1170 399.5h2M45 400.5h4M50 400.5h7M341 400.5h1M1172 400.5h1M41 401.5h4M57 401.5h6M79 401.5h37M340.5 401v2M1173 401.5h1M37 402.5h4M63 402.5h16M116 402.5h2M1174 402.5h1M33 403.5h4M118 403.5h2M339 403.5h1M1175 403.5h1M31 404.5h2M120 404.5h1M338 404.5h1M1176 404.5h1M29 405.5h2M121 405.5h2M337 405.5h1M1177 405.5h2M26 406.5h3M123 406.5h2M336 406.5h1M1179 406.5h2M1231 406.5h19M24 407.5h2M125 407.5h2M335 407.5h1M1181 407.5h2M1208 407.5h14M1226 407.5h5M1250 407.5h3M22 408.5h2M127 408.5h2M334 408.5h1M1183 408.5h2M1205 408.5h3M1222 408.5h4M1253 408.5h3M19 409.5h3M129 409.5h2M333 409.5h1M1185 409.5h10M1203 409.5h2M1256 409.5h2M17 410.5h2M131 410.5h2M332 410.5h1M1195 410.5h8M1258 410.5h1M15 411.5h2M133 411.5h2M331 411.5h1M1259 411.5h2M14 412.5h1M135 412.5h2M330 412.5h1M1261 412.5h1M12 413.5h2M137 413.5h2M329 413.5h1M1262 413.5h2M10 414.5h2M139 414.5h2M327 414.5h2M1264 414.5h1M8 415.5h2M141 415.5h2M326 415.5h1M1265 415.5h1M7 416.5h1M143 416.5h2M324 416.5h2M1266 416.5h1M5 417.5h2M145 417.5h2M323 417.5h1M1267 417.5h2M3 418.5h2M147 418.5h2M322 418.5h1M1269 418.5h1M1 419.5h2M149 419.5h2M320 419.5h2M1270 419.5h1M151 420.5h2M319 420.5h1M1271 420.5h1M153 421.5h2M317 421.5h2M1272 421.5h1M155 422.5h2M316 422.5h1M1273 422.5h3M157 423.5h2M314 423.5h2M1276 423.5h4M159 424.5h2M313 424.5h1M1280 424.5h3M161 425.5h2M310 425.5h3M1283 425.5h2M163 426.5h2M308 426.5h2M1285 426.5h3M165 427.5h2M306 427.5h2M1288 427.5h2M167 428.5h2M304 428.5h2M1290 428.5h2M169 429.5h1M302 429.5h2M1292 429.5h2M170 430.5h2M300 430.5h2M1294 430.5h2M172 431.5h1M298 431.5h2M1296 431.5h2M173 432.5h1M295 432.5h3M1298 432.5h2M174 433.5h1M293 433.5h2M1300 433.5h2M175 434.5h1M291 434.5h2M1302 434.5h3M176 435.5h1M289 435.5h2M1305 435.5h2M177 436.5h2M287 436.5h2M1307 436.5h3M179 437.5h1M285 437.5h2M1310 437.5h3M180 438.5h1M283 438.5h2M1313 438.5h4M181 439.5h1M281 439.5h2M1317 439.5h3M182 440.5h1M279 440.5h2M1320 440.5h4M183 441.5h2M277 441.5h2M1324 441.5h4M185 442.5h1M274 442.5h3M1328 442.5h2M186 443.5h2M272 443.5h2M188 444.5h2M270 444.5h2M190 445.5h2M267 445.5h3M192 446.5h1M265 446.5h2M193 447.5h2M262 447.5h3M195 448.5h1M259 448.5h3M196 449.5h2M257 449.5h2M198 450.5h1M254 450.5h3M199 451.5h2M251 451.5h3M201 452.5h1M248 452.5h3M202 453.5h2M245 453.5h3M204 454.5h3M242 454.5h3M207 455.5h2M238 455.5h4M209 456.5h2M235 456.5h3M211 457.5h3M230 457.5h5M214 458.5h2M223 458.5h7M216 459.5h7" fill="none" stroke="#ffa500" stroke-width="1"/>
<rect x="1" y="83" width="1681" height="2" fill="#ff0000"/>
<rect x="1" y="213" width="1681" height="2" fill="#ff0000"/>
<rect x="1" y="359" width="1681" height="2" fill="#2ccc2c"/>
<rect x="1" y="521" width="1681" height="2" fill="#4169e1"/>
<rect x="1" y="600" width="1" height="49" fill="#c0c0c0"/>
<rect x="9" y="599" width="1" height="50" fill="#c0c0c0"/>
<rect x="17" y="598" width="1" height="51" fill="#c0c0c0"/>
<rect x="25" y="602" width="1" height="47" fill="#c0c0c0"/>
<rect x="33" y="605" width="1" height="44" fill="#c0c0c0"/>
<rect x="41" y="610" width="1" height="39" fill="#c0c0c0"/>
<rect x="49" y="617" width="1" height="32" fill="#c0c0c0"/>
<rect x="57" y="627" width="1" height="22" fill="#c0c0c0"/>
<rect x="65" y="635" width="1" height="14" fill="#c0c0c0"/>
<rect x="73" y="640" width="1" height="9" fill="#c0c0c0"/>
<rect x="81" y="644" width="1" height="5" fill="#c0c0c0"/>
<rect x="97" y="648" width="1" height="3" fill="#c0c0c0"/>
<rect x="105" y="648" width="1" height="5" fill="#c0c0c0"/>
<rect x="113" y="648" width="1" height="7" fill="#c0c0c0"/>
<rect x="121" y="648" width="1" height="8" fill="#c0c0c0"/>
<rect x="129" y="648" width="1" height="9" fill="#c0c0c0"/>
<rect x="137" y="648" width="1" height="11" fill="#c0c0c0"/>
<rect x="145" y="648" width="1" height="8" fill="#c0c0c0"/>
<rect x="153" y="648" width="1" height="6" fill="#c0c0c0"/>
<rect x="161" y="648" width="1" height="8" fill="#c0c0c0"/>
<rect x="169" y="648" width="1" height="8" fill="#c0c0c0"/>
<rect x="177" y="648" width="1" height="8" fill="#c0c0c0"/>
<rect x="185" y="648" width="1" height="12" fill="#c0c0c0"/>
<rect x="193" y="648" width="1" height="14" fill="#c0c0c0"/>
<rect x="201" y="648" width="1" height="16" fill="#c0c0c0"/>
<rect x="209" y="648" width="1" height="17" fill="#c0c0c0"/>
<rect x="217" y="648" width="1" height="15" fill="#c0c0c0"/>
<rect x="225" y="648" width="1" height="10" fill="#c0c0c0"/>
<rect x="233" y="648" width="1" height="6" fill="#c0c0c0"/>
<rect x="241" y="648" width="1" height="2" fill="#c0c0c0"/>
<rect x="249" y="646" width="1" height="3" fill="#c0c0c0"/>
<rect x="257" y="642" width="1" height="7" fill="#c0c0c0"/>
<rect x="265" y="638" width="1" height="11" fill="#c0c0c0"/>
<rect x="273" y="635" width="1" height="14" fill="#c0c0c0"/>
<rect x="281" y="631" width="1" height="18" fill="#c0c0c0"/>
<rect x="289" y="629" width="1" height="20" fill="#c0c0c0"/>
<rect x="297" y="627" width="1" height="22" fill="#c0c0c0"/>
<rect x="305" y="624" width="1" height="25" fill="#c0c0c0"/>
<rect x="313" y="623" width="1" height="26" fill="#c0c0c0"/>
<rect x="321" y="618" width="1" height="31" fill="#c0c0c0"/>
<rect x="329" y="613" width="1" height="36" fill="#c0c0c0"/>
<rect x="337" y="606" width="1" height="43" fill="#c0c0c0"/>
<rect x="345" y="603" width="1" height="46" fill="#c0c0c0"/>
<rect x="353" y="602" width="1" height="47" fill="#c0c0c0"/>
<rect x="361" y="601" width="1" height="48" fill="#c0c0c0"/>
<rect x="369" y="602" width="1" height="47" fill="#c0c0c0"/>
<rect x="377" y="602" width="1" height="47" fill="#c0c0c0"/>
<rect x="385" y="603" width="1" height="46" fill="#c0c0c0"/>
<rect x="393" y="605" width="1" height="44" fill="#c0c0c0"/>
<rect x="401" y="607" width="1" height="42" fill="#c0c0c0"/>
<rect x="409" y="604" width="1" height="45" fill="#c0c0c0"/>
<rect x="417" y="602" width="1" height="47" fill="#c0c0c0"/>
<rect x="425" y="608" width="1" height="41" fill="#c0c0c0"/>
<rect x="433" y="613" width="1" height="36" fill="#c0c0c0"/>
<rect x="441" y="617" width="1" height="32" fill="#c0c0c0"/>
<rect x="449" y="620" width="1" height="29" fill="#c0c0c0"/>
<rect x="457" y="622" width="1" height="27" fill="#c0c0c0"/>
<rect x="465" y="628" width="1" height="21" fill="#c0c0c0"/>
<rect x="473" y="632" width="1" height="17" fill="#c0c0c0"/>
<rect x="481" y="638" width="1" height="11" fill="#c0c0c0"/>
<rect x="489" y="643" width="1" height="6" fill="#c0c0c0"/>
<rect x="497" y="646" width="1" height="3" fill="#c0c0c0"/>
<rect x="521" y="648" width="1" height="3" fill="#c0c0c0"/>
<rect x="529" y="648" width="1" height="2" fill="#c0c0c0"/>
<rect x="553" y="647" width="1" height="2" fill="#c0c0c0"/>
<rect x="561" y="646" width="1" height="3" fill="#c0c0c0"/>
<rect x="569" y="645" width="1" height="4" fill="#c0c0c0"/>
<rect x="577" y="643" width="1" height="6" fill="#c0c0c0"/>
<rect x="585" y="642" width="1" height="7" fill="#c0c0c0"/>
<rect x="593" y="638" width="1" height="11" fill="#c0c0c0"/>
<rect x="601" y="633" width="1" height="16" fill="#c0c0c0"/>
<rect x="609" y="632" width="1" height="17" fill="#c0c0c0"/>
<rect x="617" y="636" width="1" height="13" fill="#c0c0c0"/>
<rect x="625" y="636" width="1" height="13" fill="#c0c0c0"/>
<rect x="633" y="637" width="1" height="12" fill="#c0c0c0"/>
<rect x="641" y="640" width="1" height="9" fill="#c0c0c0"/>
<rect x="649" y="640" width="1" height="9" fill="#c0c0c0"/>
<rect x="657" y="640" width="1" height="9" fill="#c0c0c0"/>
<rect x="665" y="641" width="1" height="8" fill="#c0c0c0"/>
<rect x="673" y="642" width="1" height="7" fill="#c0c0c0"/>
<rect x="681" y="642" width="1" height="7" fill="#c0c0c0"/>
<rect x="689" y="643" width="1" height="6" fill="#c0c0c0"/>
<rect x="697" y="641" width="1" height="8" fill="#c0c0c0"/>
<rect x="705" y="642" width="1" height="7" fill="#c0c0c0"/>
<rect x="713" y="643" width="1" height="6" fill="#c0c0c0"/>
<rect x="721" y="641" width="1" height="8" fill="#c0c0c0"/>
<rect x="729" y="639" width="1" height="10" fill="#c0c0c0"/>
<rect x="737" y="635" width="1" height="14" fill="#c0c0c0"/>
<rect x="745" y="635" width="1" height="14" fill="#c0c0c0"/>
<rect x="753" y="633" width="1" height="16" fill="#c0c0c0"/>
<rect x="761" y="631" width="1" height="18" fill="#c0c0c0"/>
<rect x="769" y="629" width="1" height="20" fill="#c0c0c0"/>
<rect x="777" y="628" width="1" height="21" fill="#c0c0c0"/>
<rect x="785" y="627" width="1" height="22" fill="#c0c0c0"/>
<rect x="793" y="621" width="1" height="28" fill="#c0c0c0"/>
<rect x="801" y="614" width="1" height="35" fill="#c0c0c0"/>
<rect x="809" y="608" width="1" height="41" fill="#c0c0c0"/>
<rect x="817" y="601" width="1" height="48" fill="#c0c0c0"/>
<rect x="825" y="593" width="1" height="56" fill="#c0c0c0"/>
<rect x="833" y="587" width="1" height="62" fill="#c0c0c0"/>
<rect x="841" y="584" width="1" height="65" fill="#c0c0c0"/>
<rect x="849" y="582" width="1" height="67" fill="#c0c0c0"/>
<rect x="857" y="582" width="1" height="67" fill="#c0c0c0"/>
<rect x="865" y="580" width="1" height="69" fill="#c0c0c0"/>
<rect x="873" y="580" width="1" height="69" fill="#c0c0c0"/>
<rect x="881" y="579" width="1" height="70" fill="#c0c0c0"/>
<rect x="889" y="579" width="1" height="70" fill="#c0c0c0"/>
<rect x="897" y="583" width="1" height="66" fill="#c0c0c0"/>
<rect x="905" y="585" width="1" height="64" fill="#c0c0c0"/>
<rect x="913" y="588" width="1" height="61" fill="#c0c0c0"/>
<rect x="921" y="602" width="1" height="47" fill="#c0c0c0"/>
<rect x="929" y="611" width="1" height="38" fill="#c0c0c0"/>
<rect x="937" y="617" width="1" height="32" fill="#c0c0c0"/>
<rect x="945" y="624" width="1" height="25" fill="#c0c0c0"/>
<rect x="953" y="629" width="1" height="20" fill="#c0c0c0"/>
<rect x="961" y="634" width="1" height="15" fill="#c0c0c0"/>
<rect x="969" y="639" width="1" height="10" fill="#c0c0c0"/>
<rect x="977" y="642" width="1" height="7" fill="#c0c0c0"/>
<rect x="985" y="645" width="1" height="4" fill="#c0c0c0"/>
<rect x="1001" y="648" width="1" height="5" fill="#c0c0c0"/>
<rect x="1009" y="648" width="1" height="13" fill="#c0c0c0"/>
<rect x="1017" y="648" width="1" height="29" fill="#c0c0c0"/>
<rect x="1025" y="648" width="1" height="47" fill="#c0c0c0"/>
<rect x="1033" y="648" width="1" height="60" fill="#c0c0c0"/>
<rect x="1041" y="648" width="1" height="75" fill="#c0c0c0"/>
<rect x="1049" y="648" width="1" height="81" fill="#c0c0c0"/>
<rect x="1057" y="648" width="1" height="83" fill="#c0c0c0"/>
<rect x="1065" y="648" width="1" height="84" fill="#c0c0c0"/>
<rect x="1073" y="648" width="1" height="85" fill="#c0c0c0"/>
<rect x="1081" y="648" width="1" height="84" fill="#c0c0c0"/>
<rect x="1089" y="648" width="1" height="82" fill="#c0c0c0"/>
<rect x="1097" y="648" width="1" height="76" fill="#c0c0c0"/>
<rect x="1105" y="648" width="1" height="70" fill="#c0c0c0"/>
<rect x="1113" y="648" width="1" height="71" fill="#c0c0c0"/>
<rect x="1121" y="648" width="1" height="67" fill="#c0c0c0"/>
<rect x="1129" y="648" width="1" height="61" fill="#c0c0c0"/>
<rect x="1137" y="648" width="1" height="56" fill="#c0c0c0"/>
<rect x="1145" y="648" width="1" height="52" fill="#c0c0c0"/>
<rect x="1153" y="648" width="1" height="49" fill="#c0c0c0"/>
<rect x="1161" y="648" width="1" height="45" fill="#c0c0c0"/>
<rect x="1169" y="648" width="1" height="43" fill="#c0c0c0"/>
<rect x="1177" y="648" width="1" height="42" fill="#c0c0c0"/>
<rect x="1185" y="648" width="1" height="44" fill="#c0c0c0"/>
<rect x="1193" y="648" width="1" height="45" fill="#c0c0c0"/>
<rect x="1201" y="648" width="1" height="44" fill="#c0c0c0"/>
<rect x="1209" y="648" width="1" height="41" fill="#c0c0c0"/>
<rect x="1217" y="648" width="1" height="40" fill="#c0c0c0"/>
<rect x="1225" y="648" width="1" height="38" fill="#c0c0c0"/>
<rect x="1233" y="648" width="1" height="34" fill="#c0c0c0"/>
<rect x="1241" y="648" width="1" height="30" fill="#c0c0c0"/>
<rect x="1249" y="648" width="1" height="28" fill="#c0c0c0"/>
<rect x="1257" y="648" width="1" height="32" fill="#c0c0c0"/>
<rect x="1265" y="648" width="1" height="37" fill="#c0c0c0"/>
<rect x="1273" y="648" width="1" height="44" fill="#c0c0c0"/>
<rect x="1281" y="648" width="1" height="44" fill="#c0c0c0"/>
<rect x="1289" y="648" width="1" height="42" fill="#c0c0c0"/>
<rect x="1297" y="648" width="1" height="39" fill="#c0c0c0"/>
<rect x="1305" y="648" width="1" height="36" fill="#c0c0c0"/>
<rect x="1313" y="648" width="1" height="33" fill="#c0c0c0"/>
<rect x="1321" y="648" width="1" height="31" fill="#c0c0c0"/>
<rect x="1329" y="648" width="1" height="27" fill="#c0c0c0"/>
<path d="M896 581.5h2M901 581.5h3M907 581.5h3M913 581.5h3M889 582.5h3M895 582.5h1M919 582.5h2M883 583.5h3M921 583.5h1M878 585.5h2M925 585.5h2M877 586.5h1M927 586.5h1M872 588.5h2M931 588.5h2M871 589.5h1M933 589.5h1M866 590.5h2M865 591.5h1M937 591.5h1M938 592.5h2M861 593.5h1M860 594.5h1M943 594.5h1M859 595.5h1M944 595.5h2M855 597.5h1M854 598.5h1M949 598.5h1M853 599.5h1M950 599.5h1M951 600.5h1M25 601.5h3M31 601.5h3M37 601.5h3M849 601.5h1M19 602.5h3M43 602.5h3M404 602.5h2M409 602.5h3M415 602.5h3M421 602.5h2M847 602.5h2M49 603.5h1M391 603.5h3M397 603.5h3M403 603.5h1M423 603.5h1M427 603.5h3M955 603.5h2M13 604.5h3M50 604.5h2M387 604.5h1M433 604.5h3M843 604.5h1M957 604.5h1M9 605.5h1M55 605.5h1M385 605.5h2M439 605.5h1M842 605.5h1M7 606.5h2M56 606.5h2M379 606.5h3M440 606.5h2M445 606.5h1M841 606.5h1M2 607.5h2M61 607.5h1M375 607.5h1M446 607.5h2M961 607.5h1M1 608.5h1M62 608.5h2M373 608.5h2M451 608.5h2M837 608.5h1M962 608.5h2M368 609.5h2M453 609.5h1M836 609.5h1M67 610.5h1M367 610.5h1M457 610.5h1M835 610.5h1M68 611.5h1M362 611.5h2M458 611.5h2M967 611.5h2M69 612.5h1M361 612.5h1M463 612.5h1M969 612.5h1M357 613.5h1M464 613.5h2M830 613.5h2M73 614.5h1M355 614.5h2M469 614.5h3M829 614.5h1M74 615.5h2M973 615.5h1M349 616.5h3M475 616.5h2M825 616.5h1M974 616.5h1M477 617.5h1M823 617.5h2M975 617.5h1M79 618.5h2M344 618.5h2M81 619.5h1M343 619.5h1M481 619.5h2M819 619.5h1M483 620.5h1M817 620.5h2M85 621.5h1M338 621.5h2M487 621.5h1M979 621.5h1M86 622.5h1M337 622.5h1M488 622.5h2M813 622.5h1M980 622.5h1M87 623.5h1M333 623.5h1M811 623.5h2M981 623.5h1M331 624.5h2M493 625.5h2M807 625.5h1M91 626.5h2M326 626.5h2M495 626.5h1M805 626.5h2M93 627.5h1M325 627.5h1M800 627.5h2M985 627.5h2M799 628.5h1M987 628.5h1M319 629.5h3M499 629.5h2M795 629.5h1M97 630.5h1M501 630.5h1M793 630.5h2M991 630.5h2M98 631.5h2M315 631.5h1M788 631.5h2M993 631.5h1M313 632.5h2M505 632.5h2M783 632.5h1M787 632.5h1M103 633.5h1M507 633.5h1M781 633.5h2M997 633.5h1M104 634.5h2M308 634.5h2M775 634.5h3M998 634.5h1M307 635.5h1M511 635.5h3M771 635.5h1M999 635.5h1M302 636.5h2M645 636.5h1M649 636.5h3M655 636.5h3M661 636.5h3M765 636.5h1M769 636.5h2M109 637.5h1M301 637.5h1M517 637.5h2M631 637.5h3M637 637.5h3M643 637.5h2M667 637.5h3M673 637.5h3M757 637.5h3M763 637.5h2M110 638.5h1M297 638.5h1M519 638.5h1M621 638.5h1M625 638.5h3M679 638.5h1M751 638.5h3M1003 638.5h2M111 639.5h1M295 639.5h2M619 639.5h2M680 639.5h2M685 639.5h3M691 639.5h3M741 639.5h1M745 639.5h3M1005 639.5h1M523 640.5h3M613 640.5h3M697 640.5h3M703 640.5h3M709 640.5h2M733 640.5h3M739 640.5h2M115 641.5h1M290 641.5h2M607 641.5h3M711 641.5h1M715 641.5h3M721 641.5h3M727 641.5h3M1009 641.5h1M116 642.5h1M289 642.5h1M529 642.5h2M1010 642.5h1M117 643.5h1M531 643.5h1M601 643.5h3M1011 643.5h1M285 644.5h1M535 644.5h1M595 644.5h3M121 645.5h2M283 645.5h2M536 645.5h2M589 645.5h3M1015 645.5h1M123 646.5h1M541 646.5h3M578 646.5h2M583 646.5h3M1016 646.5h2M127 647.5h1M278 647.5h2M547 647.5h3M571 647.5h3M577 647.5h1M128 648.5h2M277 648.5h1M553 648.5h3M559 648.5h3M565 648.5h3M133 650.5h3M271 650.5h3M1021 650.5h1M1022 651.5h2M139 652.5h3M266 652.5h2M145 653.5h3M265 653.5h1M151 654.5h3M260 654.5h2M157 655.5h3M163 655.5h3M259 655.5h1M1027 655.5h1M169 656.5h3M175 656.5h3M254 656.5h2M1028 656.5h1M181 657.5h3M253 657.5h1M1029 657.5h1M187 658.5h3M193 658.5h3M248 658.5h2M199 659.5h3M205 659.5h3M211 659.5h2M247 659.5h1M213 660.5h1M217 660.5h3M223 660.5h3M229 660.5h3M235 660.5h3M241 660.5h3M1032 661.5h1M1033 662.5h1M1034 663.5h1M1037 667.5h1M1038 668.5h1M1039 669.5h1M1042 673.5h1M1043 674.5h1M1044 675.5h1M1047 679.5h1M1048 680.5h1M1049 681.5h1M1260 684.5h1M1264 684.5h3M1270 684.5h3M1276 684.5h3M1282 684.5h3M1288 684.5h3M1294 684.5h1M1052 685.5h1M1252 685.5h3M1258 685.5h2M1295 685.5h2M1300 685.5h3M1306 685.5h3M1312 685.5h3M1318 685.5h3M1324 685.5h3M1053 686.5h1M1246 686.5h3M1054 687.5h1M1240 687.5h3M1234 688.5h3M1228 689.5h3M1222 690.5h3M1057 691.5h1M1217 691.5h2M1058 692.5h1M1212 692.5h1M1216 692.5h1M1059 693.5h1M1210 693.5h2M1204 694.5h3M1199 695.5h2M1198 696.5h1M1062 697.5h1M1192 697.5h3M1063.5 698v2M1188 698.5h1M1186 699.5h2M1180 700.5h3M1175 702.5h2M1067 703.5h1M1174 703.5h1M1068 704.5h1M1170 704.5h1M1069 705.5h1M1168 705.5h2M1164 707.5h1M1162 708.5h2M1073 709.5h1M1074 710.5h1M1158 710.5h1M1075 711.5h1M1156 711.5h2M1152 713.5h1M1150 714.5h2M1078 715.5h1M1079 716.5h1M1146 716.5h1M1080 717.5h1M1144 717.5h2M1138 719.5h3M1084 720.5h1M1085 721.5h1M1134 721.5h1M1086 722.5h1M1132 722.5h2M1090 724.5h1M1126 724.5h3M1091 725.5h2M1096 726.5h1M1120 726.5h3M1097 727.5h2M1102 727.5h1M1114 727.5h3M1103 728.5h2M1108 728.5h3" fill="none" stroke="#ff0000" stroke-width="1"/>
<line x1="2" y1="782.5" x2="1681" y2="782.5" stroke="#c0c0c0" stroke-width="1" stroke-dasharray="3 3"/>
<line x1="2" y1="833.5" x2="1681" y2="833.5" stroke="#c0c0c0" stroke-width="1" stroke-dasharray="3 3"/>
<path d="M824 766.5h5M821 767.5h3M829 767.5h8M865 767.5h1M818 768.5h3M837 768.5h8M863 768.5h2M866 768.5h1M816 769.5h2M845 769.5h6M861 769.5h2M867 769.5h1M814 770.5h2M851 770.5h3M860 770.5h1M868.5 770v2M337 771.5h1M812 771.5h2M854 771.5h2M858 771.5h2M335 772.5h2M338 772.5h1M810 772.5h2M856 772.5h2M869 772.5h1M334 773.5h1M339 773.5h1M805 773.5h5M870 773.5h1M333 774.5h1M340.5 774v2M801 774.5h4M871 774.5h1M880 774.5h6M331 775.5h2M799 775.5h2M872.5 775v2M877 775.5h3M886 775.5h4M330 776.5h1M341 776.5h1M797 776.5h2M874 776.5h3M890 776.5h1M328 777.5h2M342 777.5h1M795 777.5h2M873 777.5h1M891.5 777v2M325 778.5h3M343 778.5h1M793 778.5h2M322 779.5h3M344.5 779v2M793 779.5h1M892 779.5h1M321 780.5h1M409 780.5h1M792 780.5h1M893.5 780v2M320 781.5h1M345 781.5h5M408 781.5h1M410 781.5h3M601 781.5h1M791.5 781v2M319 782.5h1M350 782.5h12M384 782.5h2M407 782.5h1M413 782.5h4M599 782.5h2M602.5 782v2M894 782.5h1M317 783.5h2M362 783.5h3M379 783.5h5M386 783.5h1M406.5 783v2M417 783.5h1M598 783.5h1M790.5 783v2M895.5 783v2M904 783.5h4M316 784.5h1M365 784.5h2M374 784.5h5M387.5 784v2M418.5 784v2M596 784.5h2M603.5 784v2M902 784.5h2M908 784.5h2M281 785.5h1M315 785.5h1M367 785.5h2M370 785.5h4M405 785.5h1M595 785.5h1M789 785.5h1M896 785.5h1M900 785.5h2M910 785.5h3M7 786.5h11M280 786.5h1M282 786.5h1M314 786.5h1M369 786.5h1M388 786.5h1M404 786.5h1M419.5 786v3M594 786.5h1M604.5 786v2M788.5 786v2M897 786.5h3M913.5 786v2M3 787.5h4M18 787.5h1M264 787.5h3M278 787.5h2M283 787.5h1M304 787.5h10M389.5 787v2M403 787.5h1M593 787.5h1M897 787.5h1M1 788.5h2M19 788.5h1M262 788.5h2M267 788.5h1M277 788.5h1M284 788.5h1M300 788.5h4M402 788.5h1M592 788.5h1M605 788.5h1M787 788.5h1M914.5 788v4M20.5 789v2M260 789.5h2M268 789.5h2M276 789.5h1M285 789.5h1M297 789.5h3M390 789.5h1M400 789.5h2M420.5 789v2M591 789.5h1M606.5 789v2M737 789.5h1M768 789.5h4M786.5 789v2M258 790.5h2M270 790.5h1M275 790.5h1M286 790.5h1M295 790.5h2M391 790.5h1M398 790.5h2M590.5 790v2M735 790.5h2M738 790.5h1M766 790.5h2M772 790.5h2M21 791.5h1M252 791.5h6M271 791.5h2M274 791.5h1M287 791.5h1M293 791.5h2M392.5 791v2M396 791.5h2M421.5 791v3M607.5 791v2M733 791.5h2M739 791.5h1M764 791.5h2M774 791.5h2M780 791.5h6M22 792.5h1M248 792.5h4M273 792.5h1M288 792.5h1M291 792.5h2M394 792.5h2M589 792.5h1M731 792.5h2M740 792.5h1M762 792.5h2M776 792.5h4M915.5 792v3M23 793.5h1M245 793.5h3M289 793.5h2M393 793.5h1M588 793.5h1M608.5 793v2M729 793.5h2M741 793.5h1M756 793.5h6M24.5 794v2M242 794.5h3M422.5 794v2M587 794.5h1M727 794.5h2M742.5 794v2M752 794.5h4M239 795.5h3M586.5 795v2M609.5 795v2M725 795.5h2M750 795.5h2M916.5 795v4M25 796.5h4M236 796.5h3M423.5 796v2M723 796.5h2M743 796.5h1M748 796.5h2M29 797.5h5M234 797.5h2M582 797.5h4M610.5 797v2M721 797.5h2M744 797.5h1M746 797.5h2M34 798.5h1M231 798.5h3M424.5 798v3M578 798.5h4M697 798.5h1M720.5 798v2M745 798.5h1M35 799.5h2M229 799.5h2M572 799.5h6M611.5 799v2M696 799.5h1M698 799.5h1M917.5 799v4M37 800.5h1M226 800.5h3M452 800.5h6M553 800.5h19M695 800.5h1M699 800.5h1M719 800.5h1M38 801.5h1M225 801.5h1M425.5 801v2M444 801.5h8M458 801.5h1M551 801.5h2M612.5 801v2M693 801.5h2M700 801.5h1M718 801.5h1M39 802.5h1M224 802.5h1M426 802.5h18M459.5 802v2M549 802.5h2M692 802.5h1M701 802.5h1M717 802.5h1M40 803.5h2M223.5 803v2M548 803.5h1M613.5 803v2M625 803.5h2M691 803.5h1M702 803.5h1M716 803.5h1M918.5 803v4M42 804.5h1M145.5 804v2M460 804.5h1M546 804.5h2M624 804.5h1M627 804.5h2M648 804.5h11M690 804.5h1M703 804.5h1M715.5 804v2M43 805.5h2M146 805.5h2M222 805.5h1M461.5 805v2M540 805.5h6M614.5 805v2M623 805.5h1M629 805.5h2M645 805.5h3M659 805.5h3M671 805.5h19M704 805.5h1M45 806.5h2M144.5 806v2M148 806.5h1M221 806.5h1M529 806.5h11M622 806.5h1M631 806.5h2M643 806.5h2M662 806.5h2M667 806.5h4M705 806.5h6M714 806.5h1M47 807.5h2M149 807.5h1M220 807.5h1M462 807.5h1M528 807.5h1M615 807.5h1M621 807.5h1M633 807.5h10M664 807.5h3M711 807.5h3M919.5 807v4M936 807.5h3M49 808.5h1M143.5 808v2M150 808.5h2M219 808.5h1M463.5 808v2M472 808.5h2M527 808.5h1M616.5 808v2M620 808.5h1M934 808.5h2M939 808.5h2M50 809.5h1M152 809.5h1M218.5 809v2M470 809.5h2M474 809.5h1M526 809.5h1M619 809.5h1M932 809.5h2M941 809.5h2M950 809.5h6M51.5 810v2M142 810.5h1M153 810.5h4M464 810.5h1M468 810.5h2M475 810.5h1M525 810.5h1M617 810.5h2M930 810.5h2M943 810.5h2M946 810.5h4M956 810.5h4M141.5 811v2M157 811.5h6M217 811.5h1M465 811.5h3M476.5 811v2M524 811.5h1M617 811.5h1M920.5 811v4M928 811.5h2M945 811.5h1M960 811.5h3M976 811.5h7M52 812.5h1M163 812.5h5M216 812.5h1M465 812.5h1M510 812.5h6M523 812.5h1M927 812.5h1M963 812.5h2M973 812.5h3M983 812.5h4M1236 812.5h7M1327 812.5h3M53 813.5h1M140.5 813v2M168 813.5h3M215.5 813v2M477 813.5h1M506 813.5h4M516 813.5h3M522 813.5h1M926 813.5h1M965 813.5h3M971 813.5h2M987 813.5h2M1232 813.5h4M1243 813.5h2M1323 813.5h4M54.5 814v2M116 814.5h7M171 814.5h2M478 814.5h1M500 814.5h6M519 814.5h3M925 814.5h1M968 814.5h3M989 814.5h2M1231 814.5h1M1245 814.5h3M1304 814.5h19M72 815.5h12M108 815.5h8M123 815.5h2M139.5 815v2M173 815.5h2M214 815.5h1M479.5 815v2M488 815.5h12M921.5 815v3M923 815.5h2M991 815.5h2M1229 815.5h2M1248 815.5h2M1301 815.5h3M55 816.5h1M69 816.5h3M84 816.5h3M101 816.5h7M125 816.5h2M175 816.5h2M213 816.5h1M485 816.5h3M922 816.5h1M993 816.5h2M1132 816.5h11M1160 816.5h4M1227 816.5h2M1250.5 816v2M1289 816.5h3M1299 816.5h2M56 817.5h1M66 817.5h3M87 817.5h14M127 817.5h2M138.5 817v2M177 817.5h2M212.5 817v2M480 817.5h1M483 817.5h2M995 817.5h2M1128 817.5h4M1143 817.5h4M1158 817.5h2M1164 817.5h5M1226 817.5h1M1287 817.5h2M1292 817.5h7M57.5 818v2M59 818.5h7M129 818.5h7M179 818.5h1M481 818.5h2M997 818.5h2M1125 818.5h3M1147 818.5h3M1156 818.5h2M1169 818.5h2M1208 818.5h4M1223 818.5h3M1251 818.5h1M1286 818.5h1M58 819.5h1M136 819.5h2M180 819.5h2M211 819.5h1M999 819.5h2M1123 819.5h2M1150 819.5h2M1155 819.5h1M1171 819.5h2M1207 819.5h1M1212 819.5h3M1220 819.5h3M1252.5 819v2M1284 819.5h2M182 820.5h2M210 820.5h1M1001 820.5h2M1121 820.5h2M1152 820.5h3M1173 820.5h2M1205 820.5h2M1215 820.5h5M1282 820.5h2M184 821.5h1M208 821.5h2M1003 821.5h1M1101 821.5h5M1120.5 821v2M1175 821.5h1M1203 821.5h2M1253 821.5h1M1281.5 821v2M185 822.5h5M206 822.5h2M1004 822.5h1M1097 822.5h4M1106 822.5h1M1176 822.5h2M1202 822.5h1M1254.5 822v2M190 823.5h7M203 823.5h3M1005 823.5h2M1096 823.5h1M1107 823.5h1M1119 823.5h1M1178 823.5h2M1197 823.5h5M1280.5 823v2M197 824.5h6M1007 824.5h1M1095 824.5h1M1108 824.5h1M1118 824.5h1M1180 824.5h1M1192 824.5h5M1255.5 824v2M1008 825.5h1M1094 825.5h1M1109 825.5h1M1117 825.5h1M1181 825.5h2M1190 825.5h2M1279.5 825v2M1009 826.5h1M1093 826.5h1M1110 826.5h1M1116 826.5h1M1183 826.5h2M1187 826.5h3M1256 826.5h1M1010 827.5h1M1092 827.5h1M1111.5 827v2M1115.5 827v2M1185 827.5h2M1257.5 827v2M1278.5 827v2M1011.5 828v2M1091 828.5h1M1258 828.5h5M1090 829.5h1M1112 829.5h1M1114 829.5h1M1263 829.5h3M1277.5 829v2M1012 830.5h1M1086 830.5h4M1113 830.5h1M1266 830.5h1M1013.5 831v2M1083 831.5h3M1267 831.5h1M1276.5 831v2M1057 832.5h10M1078 832.5h5M1268 832.5h1M1014.5 833v2M1052 833.5h5M1067 833.5h11M1269 833.5h1M1275.5 833v2M1049 834.5h3M1270 834.5h1M1015 835.5h1M1049 835.5h1M1271 835.5h1M1274.5 835v2M1016.5 836v2M1048 836.5h1M1272 836.5h1M1047.5 837v2M1273 837.5h1M1017.5 838v2M1018 839.5h1M1046 839.5h1M1019 840.5h2M1045.5 840v2M1021 841.5h2M1023 842.5h2M1044.5 842v2M1025 843.5h5M1030 844.5h5M1043 844.5h1M1035 845.5h2M1042.5 845v2M1037 846.5h3M1040 847.5h2" fill="none" stroke="#1e90ff" stroke-width="1"/>
<rect x="0" y="28" width="1682" height="1" fill="#000"/>
<rect x="0" y="567" width="1682" height="1" fill="#000"/>
<rect x="0" y="569" width="1682" height="1" fill="#000"/>
<rect x="0" y="741" width="1682" height="1" fill="#000"/>
<rect x="0" y="743" width="1682" height="1" fill="#000"/>
<rect x="0" y="871" width="1682" height="1" fill="#000"/>
<rect x="0" y="28" width="1" height="540" fill="#000"/>
<rect x="1681" y="28" width="1" height="540" fill="#000"/>
<rect x="0" y="569" width="1" height="173" fill="#000"/>
<rect x="1681" y="569" width="1" height="173" fill="#000"/>
<rect x="0" y="743" width="1" height="129" fill="#000"/>
<rect x="1681" y="743" width="1" height="129" fill="#000"/>
<rect x="1681" y="83" width="1" height="2" fill="#ff0000"/>
<rect x="1681" y="213" width="1" height="2" fill="#ff0000"/>
<rect x="1681" y="359" width="1" height="2" fill="#2ccc2c"/>
<rect x="1681" y="521" width="1" height="2" fill="#4169e1"/>
<rect x="1681" y="443" width="1" height="1" fill="#708090"/>
<rect x="0" y="357" width="6" height="6" fill="#2ccc2c"/>
<rect x="2" y="359" width="2" height="2" fill="#fff"/>
<rect x="1675" y="357" width="6" height="6" fill="#2ccc2c"/>
<rect x="1677" y="359" width="2" height="2" fill="#fff"/>
<rect x="0" y="519" width="6" height="6" fill="#4169e1"/>
<rect x="2" y="521" width="2" height="2" fill="#fff"/>
<rect x="1675" y="519" width="6" height="6" fill="#4169e1"/>
<rect x="1677" y="521" width="2" height="2" fill="#fff"/>
<rect x="1682" y="36" width="2" height="1" fill="#000"/>
<rect x="1682" y="69" width="2" height="1" fill="#000"/>
<rect x="1682" y="102" width="2" height="1" fill="#000"/>
<rect x="1682" y="135" width="2" height="1" fill="#000"/>
<rect x="1682" y="168" width="2" height="1" fill="#000"/>
<rect x="1682" y="201" width="2" height="1" fill="#000"/>
<rect x="1682" y="234" width="2" height="1" fill="#000"/>
<rect x="1682" y="267" width="2" height="1" fill="#000"/>
<rect x="1682" y="300" width="2" height="1" fill="#000"/>
<rect x="1682" y="333" width="2" height="1" fill="#000"/>
<rect x="1682" y="366" width="2" height="1" fill="#000"/>
<rect x="1682" y="399" width="2" height="1" fill="#000"/>
<rect x="1682" y="432" width="2" height="1" fill="#000"/>
<rect x="1682" y="465" width="2" height="1" fill="#000"/>
<rect x="1682" y="498" width="2" height="1" fill="#000"/>
<rect x="1682" y="531" width="2" height="1" fill="#000"/>
<rect x="1682" y="564" width="2" height="1" fill="#000"/>
<rect x="1682" y="571" width="1" height="1" fill="#000"/>
<rect x="1682" y="648" width="1" height="1" fill="#000"/>
<rect x="1682" y="740" width="1" height="1" fill="#000"/>
<rect x="1682" y="745" width="1" height="1" fill="#000"/>
<rect x="1682" y="870" width="1" height="1" fill="#000"/>
<rect x="1" y="872" width="1" height="3" fill="#000"/>
<rect x="65" y="872" width="1" height="3" fill="#000"/>
<rect x="129" y="872" width="1" height="3" fill="#000"/>
<rect x="193" y="872" width="1" height="3" fill="#000"/>
<rect x="257" y="872" width="1" height="3" fill="#000"/>
<rect x="321" y="872" width="1" height="3" fill="#000"/>
<rect x="385" y="872" width="1" height="3" fill="#000"/>
<rect x="449" y="872" width="1" height="3" fill="#000"/>
<rect x="513" y="872" width="1" height="3" fill="#000"/>
<rect x="577" y="872" width="1" height="3" fill="#000"/>
<rect x="641" y="872" width="1" height="3" fill="#000"/>
<rect x="705" y="872" width="1" height="3" fill="#000"/>
<rect x="769" y="872" width="1" height="3" fill="#000"/>
<rect x="833" y="872" width="1" height="3" fill="#000"/>
<rect x="897" y="872" width="1" height="3" fill="#000"/>
<rect x="961" y="872" width="1" height="3" fill="#000"/>
<rect x="1025" y="872" width="1" height="3" fill="#000"/>
<rect x="1089" y="872" width="1" height="3" fill="#000"/>
<rect x="1153" y="872" width="1" height="3" fill="#000"/>
<rect x="1217" y="872" width="1" height="3" fill="#000"/>
<rect x="1281" y="872" width="1" height="3" fill="#000"/>
<rect x="1339" y="29" width="9" height="1" fill="#778899"/>
<rect x="1340" y="30" width="7" height="1" fill="#778899"/>
<rect x="1341" y="31" width="5" height="1" fill="#778899"/>
<rect x="1342" y="32" width="3" height="1" fill="#778899"/>
<rect x="1343" y="33" width="1" height="1" fill="#778899"/>
<rect x="1683" y="78" width="41" height="11" fill="#ff0000"/>
<rect x="1683" y="208" width="41" height="11" fill="#ff0000"/>
<rect x="1683" y="354" width="41" height="11" fill="#2ccc2c"/>
<rect x="1683" y="516" width="41" height="11" fill="#4169e1"/>
<rect x="1683" y="438" width="41" height="11" fill="#000"/>
<rect x="1" y="5" width="1" height="1" fill="#505050"/>
<rect x="3" y="5" width="1" height="1" fill="#505050"/>
<rect x="5" y="5" width="1" height="1" fill="#505050"/>
<rect x="7" y="5" width="1" height="1" fill="#505050"/>
<rect x="9" y="5" width="1" height="1" fill="#505050"/>
<rect x="1" y="8" width="1" height="1" fill="#505050"/>
<rect x="3" y="8" width="1" height="1" fill="#505050"/>
<rect x="5" y="8" width="1" height="1" fill="#505050"/>
<rect x="7" y="8" width="1" height="1" fill="#505050"/>
<rect x="9" y="8" width="1" height="1" fill="#505050"/>
<rect x="1" y="12" width="1" height="1" fill="#505050"/>
<rect x="3" y="12" width="1" height="1" fill="#505050"/>
<rect x="5" y="12" width="1" height="1" fill="#505050"/>
<rect x="7" y="12" width="1" height="1" fill="#505050"/>
<rect x="9" y="12" width="1" height="1" fill="#505050"/>
<rect x="1" y="16" width="1" height="1" fill="#505050"/>
<rect x="3" y="16" width="1" height="1" fill="#505050"/>
<rect x="5" y="16" width="1" height="1" fill="#505050"/>
<rect x="7" y="16" width="1" height="5" fill="#404040"/>
<rect x="7" y="16" width="4" height="1" fill="#404040"/>
<rect x="7" y="18" width="3" height="1" fill="#404040"/>
<rect x="54" y="6" width="1" height="1" fill="#505050"/>
<rect x="54" y="18" width="1" height="1" fill="#505050"/>
<rect x="56" y="6" width="1" height="1" fill="#505050"/>
<rect x="56" y="18" width="1" height="1" fill="#505050"/>
<rect x="58" y="6" width="1" height="1" fill="#505050"/>
<rect x="58" y="18" width="1" height="1" fill="#505050"/>
<rect x="60" y="6" width="1" height="1" fill="#505050"/>
<rect x="60" y="18" width="1" height="1" fill="#505050"/>
<rect x="62" y="6" width="1" height="1" fill="#505050"/>
<rect x="62" y="18" width="1" height="1" fill="#505050"/>
<rect x="64" y="6" width="1" height="1" fill="#505050"/>
<rect x="64" y="18" width="1" height="1" fill="#505050"/>
<rect x="54" y="6" width="1" height="1" fill="#505050"/>
<rect x="65" y="6" width="1" height="1" fill="#505050"/>
<rect x="54" y="8" width="1" height="1" fill="#505050"/>
<rect x="65" y="8" width="1" height="1" fill="#505050"/>
<rect x="54" y="10" width="1" height="1" fill="#505050"/>
<rect x="65" y="10" width="1" height="1" fill="#505050"/>
<rect x="54" y="12" width="1" height="1" fill="#505050"/>
<rect x="65" y="12" width="1" height="1" fill="#505050"/>
<rect x="54" y="14" width="1" height="1" fill="#505050"/>
<rect x="65" y="14" width="1" height="1" fill="#505050"/>
<rect x="54" y="16" width="1" height="1" fill="#505050"/>
<rect x="65" y="16" width="1" height="1" fill="#505050"/>
<rect x="54" y="18" width="1" height="1" fill="#505050"/>
<rect x="65" y="18" width="1" height="1" fill="#505050"/>
<rect x="53" y="5" width="2" height="1" fill="#505050"/>
<rect x="56" y="9" width="8" height="1" fill="#555"/>
<rect x="59" y="9" width="2" height="8" fill="#555"/>
<rect x="84" y="6" width="1" height="1" fill="#4c4c4c"/>
<rect x="83" y="7" width="3" height="1" fill="#4c4c4c"/>
<rect x="82" y="8" width="5" height="1" fill="#4c4c4c"/>
<rect x="81" y="9" width="7" height="1" fill="#4c4c4c"/>
<rect x="83" y="10" width="3" height="1" fill="#4c4c4c"/>
<rect x="88" y="15" width="7" height="1" fill="#4c4c4c"/>
<rect x="89" y="16" width="5" height="1" fill="#4c4c4c"/>
<rect x="90" y="17" width="3" height="1" fill="#4c4c4c"/>
<rect x="91" y="18" width="1" height="1" fill="#4c4c4c"/>
<rect x="90" y="14" width="3" height="1" fill="#4c4c4c"/>
<path d="M101.5 11 L107.5 11 L104.5 14 Z" fill="#000"/>
<rect x="113" y="0" width="1" height="24" fill="#989898"/>
<rect x="114" y="0" width="1" height="24" fill="#fafafa"/>
<rect x="117" y="2" width="3" height="1" fill="#b4b4b4"/>
<rect x="117" y="4" width="3" height="1" fill="#b4b4b4"/>
<rect x="117" y="6" width="3" height="1" fill="#b4b4b4"/>
<rect x="117" y="8" width="3" height="1" fill="#b4b4b4"/>
<rect x="117" y="10" width="3" height="1" fill="#b4b4b4"/>
<rect x="117" y="12" width="3" height="1" fill="#b4b4b4"/>
<rect x="117" y="14" width="3" height="1" fill="#b4b4b4"/>
<rect x="117" y="16" width="3" height="1" fill="#b4b4b4"/>
<rect x="117" y="18" width="3" height="1" fill="#b4b4b4"/>
<rect x="117" y="20" width="3" height="1" fill="#b4b4b4"/>
<rect x="263" y="0" width="26" height="22" fill="#f8f8f8"/>
<rect x="263" y="0" width="25" height="1" fill="#808080"/>
<rect x="263" y="0" width="1" height="22" fill="#808080"/>
<rect x="288" y="0" width="1" height="22" fill="#ffffff"/>
<rect x="264" y="21" width="25" height="1" fill="#ffffff"/>
<rect x="374" y="0" width="1" height="24" fill="#989898"/>
<rect x="375" y="0" width="1" height="24" fill="#fafafa"/>
</svg>
<svg width="1729" height="894" viewBox="0 0 1729 894"><g fill="#e81c24" font-family="&quot;Liberation Sans&quot;, &quot;Noto Sans CJK SC&quot;, sans-serif" font-size="37.7"><text x="1356.4" y="307.4" letter-spacing="-1.4">多空转折点</text><text x="1538.6" y="306.4">1865</text></g><path d="M83.3 13.3 L85.6 15.5 L89.9 10.3" fill="none" stroke="#4c4c4c" stroke-width="1.6"/></svg>
<div class="t" style="left:1686.7px;top:32px;">1964.80</div>
<div class="t" style="left:1686.7px;top:65px;">1954.60</div>
<div class="t" style="left:1686.7px;top:98px;">1944.40</div>
<div class="t" style="left:1686.7px;top:131px;">1934.50</div>
<div class="t" style="left:1686.7px;top:164px;">1924.30</div>
<div class="t" style="left:1686.7px;top:197px;">1914.10</div>
<div class="t" style="left:1686.7px;top:230px;">1903.90</div>
<div class="t" style="left:1686.7px;top:263px;">1893.70</div>
<div class="t" style="left:1686.7px;top:296px;">1883.50</div>
<div class="t" style="left:1686.7px;top:329px;">1873.30</div>
<div class="t" style="left:1686.7px;top:362px;">1863.10</div>
<div class="t" style="left:1686.7px;top:395px;">1852.90</div>
<div class="t" style="left:1686.7px;top:428px;">1842.70</div>
<div class="t" style="left:1686.7px;top:461px;">1832.50</div>
<div class="t" style="left:1686.7px;top:494px;">1822.30</div>
<div class="t" style="left:1686.7px;top:527px;">1812.10</div>
<div class="t" style="left:1686.7px;top:560px;">1802.20</div>
<div class="t w" style="left:1686.7px;top:79px;">1950.00</div>
<div class="t w" style="left:1686.7px;top:209px;">1910.00</div>
<div class="t w" style="left:1686.7px;top:355px;">1865.00</div>
<div class="t w" style="left:1686.7px;top:517px;">1815.00</div>
<div class="t w" style="left:1686.7px;top:439px;">1839.38</div>
<div class="t" style="left:1684.6px;top:572px;">18.788</div>
<div class="t" style="left:1684.6px;top:644px;">0.00</div>
<div class="t" style="left:1684.8px;top:730px;">-22.515</div>
<div class="t" style="left:1684.4px;top:746px;">100</div>
<div class="t" style="left:1683.8px;top:778px;">70</div>
<div class="t" style="left:1684px;top:829px;">30</div>
<div class="t" style="left:1684.4px;top:860px;">0</div>
<div class="t tl" style="left:-0.3px;top:876px;">8 Dec 2020</div>
<div class="t tl" style="left:63.7px;top:876px;">9 Dec 20:00</div>
<div class="t tl" style="left:127.7px;top:876px;">11 Dec 04:00</div>
<div class="t tl" style="left:191.7px;top:876px;">14 Dec 12:00</div>
<div class="t tl" style="left:255.7px;top:876px;">15 Dec 20:00</div>
<div class="t tl" style="left:319.7px;top:876px;">17 Dec 04:00</div>
<div class="t tl" style="left:383.7px;top:876px;">18 Dec 12:00</div>
<div class="t tl" style="left:447.7px;top:876px;">21 Dec 20:00</div>
<div class="t tl" style="left:511.7px;top:876px;">23 Dec 04:00</div>
<div class="t tl" style="left:575.7px;top:876px;">24 Dec 12:00</div>
<div class="t tl" style="left:639.7px;top:876px;">28 Dec 20:00</div>
<div class="t tl" style="left:703.7px;top:876px;">30 Dec 04:00</div>
<div class="t tl" style="left:767.7px;top:876px;">31 Dec 12:00</div>
<div class="t tl" style="left:831.7px;top:876px;">4 Jan 16:00</div>
<div class="t tl" style="left:895.7px;top:876px;">6 Jan 00:00</div>
<div class="t tl" style="left:959.7px;top:876px;">7 Jan 08:00</div>
<div class="t tl" style="left:1023.7px;top:876px;">8 Jan 16:00</div>
<div class="t tl" style="left:1087.7px;top:876px;">12 Jan 00:00</div>
<div class="t tl" style="left:1151.7px;top:876px;">13 Jan 08:00</div>
<div class="t tl" style="left:1215.7px;top:876px;">14 Jan 16:00</div>
<div class="t tl" style="left:1279.7px;top:876px;">18 Jan 00:00</div>
<svg width="12" height="8" style="left:3px;top:34px" viewBox="0 0 12 8"><path d="M1 1 L8 1 L4.5 5 Z" fill="#000"/></svg>
<div class="t" style="left:15.3px;top:32px;letter-spacing:-0.19px">XAUUSD-,H4</div>
<div class="t" style="left:78.9px;top:32px;word-spacing:0.7px">1837.10 1839.58 1836.12 1839.38</div>
<div class="t" style="left:5px;top:574px;letter-spacing:-0.27px">MACD(12,26,9) -6.663 -9.015</div>
<div class="t" style="left:5px;top:748px;letter-spacing:-0.32px">RSI(14) 46.6744</div>
<div class="tf" style="left:128.3px;top:8px;">M1</div>
<div class="tf" style="left:156.4px;top:8px;">M5</div>
<div class="tf" style="left:181.8px;top:8px;">M15</div>
<div class="tf" style="left:209.8px;top:8px;">M30</div>
<div class="tf" style="left:241.3px;top:8px;">H1</div>
<div class="tf" style="left:268.0px;top:8px;">H4</div>
<div class="tf" style="left:297.4px;top:8px;">D1</div>
<div class="tf" style="left:325px;top:8px;">W1</div>
<div class="tf" style="left:351.4px;top:8px;">MN</div>
<div class="tf" style="left:27.5px;top:5px;font-size:13px;line-height:15px;color:#505050;letter-spacing:0;top:5px">A</div>
</body></html>
